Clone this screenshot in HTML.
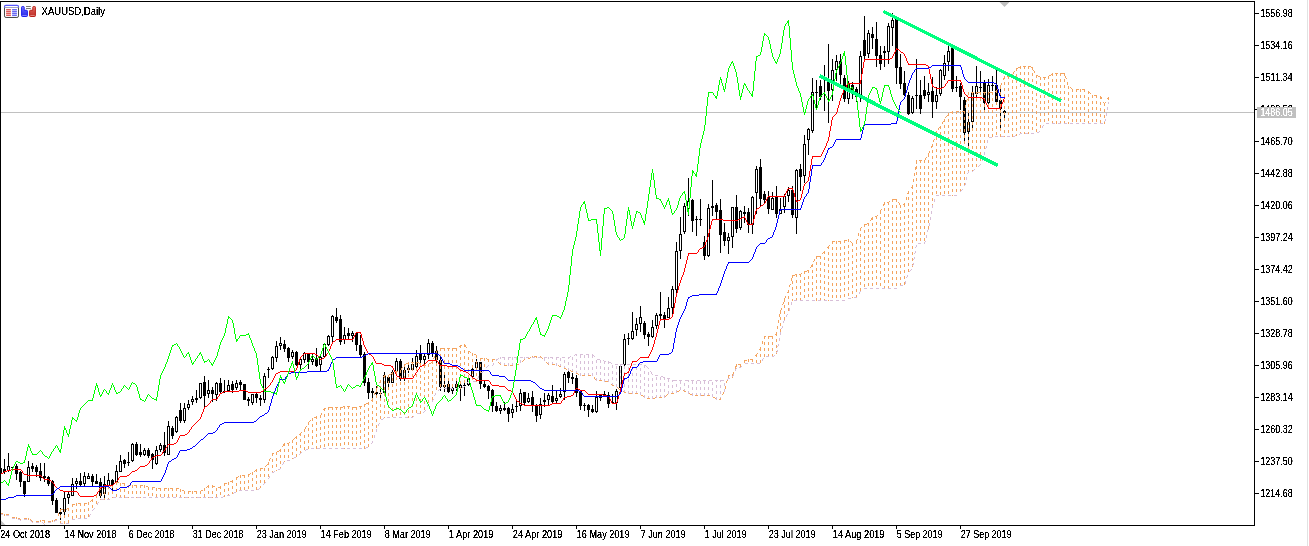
<!DOCTYPE html><html><head><meta charset="utf-8"><title>XAUUSD,Daily</title><style>html,body{margin:0;padding:0;background:#fff;overflow:hidden}body{width:1309px;height:546px;position:relative;font-family:"Liberation Sans",sans-serif}svg text{font-family:"Liberation Sans",sans-serif}</style></head><body><svg width="1309" height="546" viewBox="0 0 1309 546" shape-rendering="crispEdges" style="position:absolute;left:0;top:0">
<rect x="0" y="0" width="1309" height="546" fill="#fff"/>
<rect x="1307" y="0" width="1" height="546" fill="#e2e2e2"/>
<defs><clipPath id="cp"><rect x="1" y="2" width="1253" height="523"/></clipPath><filter id="tf" x="-2%" y="-10%" width="104%" height="120%" color-interpolation-filters="sRGB"><feComponentTransfer><feFuncA type="discrete" tableValues="0 0 0 0.5 1 1 1 1 1 1"/></feComponentTransfer></filter></defs>
<g clip-path="url(#cp)">
<rect x="0" y="112" width="1254" height="1" fill="#c0c0c0"/>
<rect x="0" y="455" width="1" height="19" fill="#000"/>
<rect x="-1" y="468" width="3" height="5" fill="#000"/>
<rect x="4" y="459" width="1" height="15" fill="#000"/>
<rect x="3" y="469" width="3" height="3" fill="#000"/>
<rect x="8" y="453" width="1" height="19" fill="#000"/>
<rect x="7" y="466" width="3" height="5" fill="#000"/>
<rect x="8" y="467" width="1" height="3" fill="#fff"/>
<rect x="12" y="467" width="1" height="1" fill="#000"/>
<rect x="11" y="467" width="3" height="1" fill="#000"/>
<rect x="16" y="464" width="1" height="16" fill="#000"/>
<rect x="15" y="466" width="3" height="8" fill="#000"/>
<rect x="20" y="471" width="1" height="16" fill="#000"/>
<rect x="19" y="472" width="3" height="10" fill="#000"/>
<rect x="24" y="481" width="1" height="16" fill="#000"/>
<rect x="23" y="481" width="3" height="13" fill="#000"/>
<rect x="28" y="461" width="1" height="21" fill="#000"/>
<rect x="27" y="467" width="3" height="15" fill="#000"/>
<rect x="28" y="468" width="1" height="13" fill="#fff"/>
<rect x="32" y="463" width="1" height="9" fill="#000"/>
<rect x="31" y="466" width="3" height="3" fill="#000"/>
<rect x="36" y="465" width="1" height="12" fill="#000"/>
<rect x="35" y="467" width="3" height="5" fill="#000"/>
<rect x="40" y="463" width="1" height="18" fill="#000"/>
<rect x="39" y="471" width="3" height="7" fill="#000"/>
<rect x="44" y="463" width="1" height="19" fill="#000"/>
<rect x="43" y="476" width="3" height="2" fill="#000"/>
<rect x="48" y="476" width="1" height="10" fill="#000"/>
<rect x="47" y="477" width="3" height="7" fill="#000"/>
<rect x="52" y="480" width="1" height="25" fill="#000"/>
<rect x="51" y="481" width="3" height="20" fill="#000"/>
<rect x="56" y="498" width="1" height="15" fill="#000"/>
<rect x="55" y="500" width="3" height="13" fill="#000"/>
<rect x="60" y="508" width="1" height="12" fill="#000"/>
<rect x="59" y="512" width="3" height="2" fill="#000"/>
<rect x="64" y="492" width="1" height="25" fill="#000"/>
<rect x="63" y="498" width="3" height="14" fill="#000"/>
<rect x="64" y="499" width="1" height="12" fill="#fff"/>
<rect x="68" y="492" width="1" height="12" fill="#000"/>
<rect x="67" y="494" width="3" height="4" fill="#000"/>
<rect x="68" y="495" width="1" height="2" fill="#fff"/>
<rect x="72" y="478" width="1" height="18" fill="#000"/>
<rect x="71" y="484" width="3" height="12" fill="#000"/>
<rect x="72" y="485" width="1" height="10" fill="#fff"/>
<rect x="76" y="478" width="1" height="11" fill="#000"/>
<rect x="75" y="481" width="3" height="3" fill="#000"/>
<rect x="76" y="482" width="1" height="1" fill="#fff"/>
<rect x="80" y="473" width="1" height="13" fill="#000"/>
<rect x="79" y="481" width="3" height="4" fill="#000"/>
<rect x="84" y="472" width="1" height="14" fill="#000"/>
<rect x="83" y="476" width="3" height="8" fill="#000"/>
<rect x="84" y="477" width="1" height="6" fill="#fff"/>
<rect x="88" y="473" width="1" height="6" fill="#000"/>
<rect x="87" y="476" width="3" height="3" fill="#000"/>
<rect x="88" y="477" width="1" height="1" fill="#fff"/>
<rect x="92" y="474" width="1" height="12" fill="#000"/>
<rect x="91" y="476" width="3" height="6" fill="#000"/>
<rect x="96" y="474" width="1" height="10" fill="#000"/>
<rect x="95" y="481" width="3" height="3" fill="#000"/>
<rect x="100" y="478" width="1" height="20" fill="#000"/>
<rect x="99" y="482" width="3" height="14" fill="#000"/>
<rect x="104" y="476" width="1" height="23" fill="#000"/>
<rect x="103" y="484" width="3" height="10" fill="#000"/>
<rect x="104" y="485" width="1" height="8" fill="#fff"/>
<rect x="108" y="473" width="1" height="13" fill="#000"/>
<rect x="107" y="480" width="3" height="6" fill="#000"/>
<rect x="108" y="481" width="1" height="4" fill="#fff"/>
<rect x="112" y="479" width="1" height="11" fill="#000"/>
<rect x="111" y="480" width="3" height="5" fill="#000"/>
<rect x="116" y="465" width="1" height="20" fill="#000"/>
<rect x="115" y="471" width="3" height="12" fill="#000"/>
<rect x="116" y="472" width="1" height="10" fill="#fff"/>
<rect x="120" y="455" width="1" height="17" fill="#000"/>
<rect x="119" y="461" width="3" height="11" fill="#000"/>
<rect x="120" y="462" width="1" height="9" fill="#fff"/>
<rect x="124" y="459" width="1" height="9" fill="#000"/>
<rect x="123" y="460" width="3" height="4" fill="#000"/>
<rect x="128" y="452" width="1" height="14" fill="#000"/>
<rect x="127" y="462" width="3" height="1" fill="#000"/>
<rect x="132" y="443" width="1" height="19" fill="#000"/>
<rect x="131" y="444" width="3" height="17" fill="#000"/>
<rect x="132" y="445" width="1" height="15" fill="#fff"/>
<rect x="136" y="442" width="1" height="14" fill="#000"/>
<rect x="135" y="444" width="3" height="11" fill="#000"/>
<rect x="140" y="444" width="1" height="13" fill="#000"/>
<rect x="139" y="452" width="3" height="3" fill="#000"/>
<rect x="144" y="448" width="1" height="8" fill="#000"/>
<rect x="143" y="450" width="3" height="5" fill="#000"/>
<rect x="144" y="451" width="1" height="3" fill="#fff"/>
<rect x="148" y="448" width="1" height="10" fill="#000"/>
<rect x="147" y="450" width="3" height="6" fill="#000"/>
<rect x="152" y="453" width="1" height="16" fill="#000"/>
<rect x="151" y="454" width="3" height="6" fill="#000"/>
<rect x="156" y="446" width="1" height="19" fill="#000"/>
<rect x="155" y="450" width="3" height="14" fill="#000"/>
<rect x="156" y="451" width="1" height="12" fill="#fff"/>
<rect x="160" y="443" width="1" height="9" fill="#000"/>
<rect x="159" y="445" width="3" height="5" fill="#000"/>
<rect x="160" y="446" width="1" height="3" fill="#fff"/>
<rect x="164" y="432" width="1" height="24" fill="#000"/>
<rect x="163" y="445" width="3" height="8" fill="#000"/>
<rect x="168" y="421" width="1" height="34" fill="#000"/>
<rect x="167" y="426" width="3" height="29" fill="#000"/>
<rect x="168" y="427" width="1" height="27" fill="#fff"/>
<rect x="172" y="426" width="1" height="13" fill="#000"/>
<rect x="171" y="428" width="3" height="8" fill="#000"/>
<rect x="176" y="416" width="1" height="17" fill="#000"/>
<rect x="175" y="417" width="3" height="15" fill="#000"/>
<rect x="176" y="418" width="1" height="13" fill="#fff"/>
<rect x="180" y="403" width="1" height="20" fill="#000"/>
<rect x="179" y="410" width="3" height="11" fill="#000"/>
<rect x="184" y="403" width="1" height="20" fill="#000"/>
<rect x="183" y="408" width="3" height="13" fill="#000"/>
<rect x="184" y="409" width="1" height="11" fill="#fff"/>
<rect x="188" y="400" width="1" height="10" fill="#000"/>
<rect x="187" y="404" width="3" height="4" fill="#000"/>
<rect x="188" y="405" width="1" height="2" fill="#fff"/>
<rect x="192" y="396" width="1" height="9" fill="#000"/>
<rect x="191" y="399" width="3" height="3" fill="#000"/>
<rect x="192" y="400" width="1" height="1" fill="#fff"/>
<rect x="196" y="390" width="1" height="13" fill="#000"/>
<rect x="195" y="398" width="3" height="2" fill="#000"/>
<rect x="200" y="383" width="1" height="16" fill="#000"/>
<rect x="199" y="383" width="3" height="15" fill="#000"/>
<rect x="200" y="384" width="1" height="13" fill="#fff"/>
<rect x="204" y="376" width="1" height="31" fill="#000"/>
<rect x="203" y="382" width="3" height="14" fill="#000"/>
<rect x="208" y="380" width="1" height="18" fill="#000"/>
<rect x="207" y="390" width="3" height="4" fill="#000"/>
<rect x="208" y="391" width="1" height="2" fill="#fff"/>
<rect x="212" y="387" width="1" height="15" fill="#000"/>
<rect x="211" y="390" width="3" height="4" fill="#000"/>
<rect x="216" y="382" width="1" height="19" fill="#000"/>
<rect x="215" y="383" width="3" height="12" fill="#000"/>
<rect x="216" y="384" width="1" height="10" fill="#fff"/>
<rect x="220" y="378" width="1" height="15" fill="#000"/>
<rect x="219" y="383" width="3" height="9" fill="#000"/>
<rect x="224" y="380" width="1" height="13" fill="#000"/>
<rect x="223" y="391" width="3" height="1" fill="#000"/>
<rect x="228" y="380" width="1" height="11" fill="#000"/>
<rect x="227" y="385" width="3" height="6" fill="#000"/>
<rect x="228" y="386" width="1" height="4" fill="#fff"/>
<rect x="232" y="381" width="1" height="12" fill="#000"/>
<rect x="231" y="384" width="3" height="6" fill="#000"/>
<rect x="236" y="380" width="1" height="10" fill="#000"/>
<rect x="235" y="383" width="3" height="5" fill="#000"/>
<rect x="236" y="384" width="1" height="3" fill="#fff"/>
<rect x="240" y="380" width="1" height="10" fill="#000"/>
<rect x="239" y="382" width="3" height="3" fill="#000"/>
<rect x="244" y="384" width="1" height="16" fill="#000"/>
<rect x="243" y="384" width="3" height="16" fill="#000"/>
<rect x="248" y="397" width="1" height="9" fill="#000"/>
<rect x="247" y="399" width="3" height="2" fill="#000"/>
<rect x="252" y="394" width="1" height="11" fill="#000"/>
<rect x="251" y="394" width="3" height="9" fill="#000"/>
<rect x="252" y="395" width="1" height="7" fill="#fff"/>
<rect x="256" y="392" width="1" height="11" fill="#000"/>
<rect x="255" y="394" width="3" height="4" fill="#000"/>
<rect x="260" y="395" width="1" height="11" fill="#000"/>
<rect x="259" y="398" width="3" height="2" fill="#000"/>
<rect x="264" y="373" width="1" height="30" fill="#000"/>
<rect x="263" y="376" width="3" height="24" fill="#000"/>
<rect x="264" y="377" width="1" height="22" fill="#fff"/>
<rect x="268" y="367" width="1" height="11" fill="#000"/>
<rect x="267" y="369" width="3" height="1" fill="#000"/>
<rect x="272" y="356" width="1" height="14" fill="#000"/>
<rect x="271" y="357" width="3" height="12" fill="#000"/>
<rect x="272" y="358" width="1" height="10" fill="#fff"/>
<rect x="276" y="341" width="1" height="21" fill="#000"/>
<rect x="275" y="346" width="3" height="12" fill="#000"/>
<rect x="276" y="347" width="1" height="10" fill="#fff"/>
<rect x="280" y="337" width="1" height="13" fill="#000"/>
<rect x="279" y="343" width="3" height="3" fill="#000"/>
<rect x="280" y="344" width="1" height="1" fill="#fff"/>
<rect x="284" y="340" width="1" height="12" fill="#000"/>
<rect x="283" y="344" width="3" height="5" fill="#000"/>
<rect x="288" y="347" width="1" height="15" fill="#000"/>
<rect x="287" y="348" width="3" height="10" fill="#000"/>
<rect x="292" y="350" width="1" height="9" fill="#000"/>
<rect x="291" y="352" width="3" height="5" fill="#000"/>
<rect x="292" y="353" width="1" height="3" fill="#fff"/>
<rect x="296" y="351" width="1" height="15" fill="#000"/>
<rect x="295" y="352" width="3" height="13" fill="#000"/>
<rect x="300" y="359" width="1" height="11" fill="#000"/>
<rect x="299" y="359" width="3" height="6" fill="#000"/>
<rect x="300" y="360" width="1" height="4" fill="#fff"/>
<rect x="304" y="352" width="1" height="11" fill="#000"/>
<rect x="303" y="353" width="3" height="7" fill="#000"/>
<rect x="304" y="354" width="1" height="5" fill="#fff"/>
<rect x="308" y="354" width="1" height="15" fill="#000"/>
<rect x="307" y="354" width="3" height="8" fill="#000"/>
<rect x="312" y="354" width="1" height="11" fill="#000"/>
<rect x="311" y="359" width="3" height="3" fill="#000"/>
<rect x="312" y="360" width="1" height="1" fill="#fff"/>
<rect x="316" y="348" width="1" height="19" fill="#000"/>
<rect x="315" y="359" width="3" height="7" fill="#000"/>
<rect x="320" y="354" width="1" height="17" fill="#000"/>
<rect x="319" y="357" width="3" height="8" fill="#000"/>
<rect x="320" y="358" width="1" height="6" fill="#fff"/>
<rect x="324" y="343" width="1" height="15" fill="#000"/>
<rect x="323" y="344" width="3" height="13" fill="#000"/>
<rect x="324" y="345" width="1" height="11" fill="#fff"/>
<rect x="328" y="335" width="1" height="11" fill="#000"/>
<rect x="327" y="336" width="3" height="9" fill="#000"/>
<rect x="328" y="337" width="1" height="7" fill="#fff"/>
<rect x="332" y="315" width="1" height="27" fill="#000"/>
<rect x="331" y="316" width="3" height="21" fill="#000"/>
<rect x="332" y="317" width="1" height="19" fill="#fff"/>
<rect x="336" y="308" width="1" height="15" fill="#000"/>
<rect x="335" y="317" width="3" height="4" fill="#000"/>
<rect x="340" y="315" width="1" height="30" fill="#000"/>
<rect x="339" y="319" width="3" height="23" fill="#000"/>
<rect x="344" y="327" width="1" height="17" fill="#000"/>
<rect x="343" y="335" width="3" height="5" fill="#000"/>
<rect x="344" y="336" width="1" height="3" fill="#fff"/>
<rect x="348" y="328" width="1" height="11" fill="#000"/>
<rect x="347" y="333" width="3" height="3" fill="#000"/>
<rect x="352" y="331" width="1" height="11" fill="#000"/>
<rect x="351" y="333" width="3" height="3" fill="#000"/>
<rect x="352" y="334" width="1" height="1" fill="#fff"/>
<rect x="356" y="332" width="1" height="19" fill="#000"/>
<rect x="355" y="333" width="3" height="12" fill="#000"/>
<rect x="360" y="335" width="1" height="22" fill="#000"/>
<rect x="359" y="345" width="3" height="10" fill="#000"/>
<rect x="364" y="352" width="1" height="34" fill="#000"/>
<rect x="363" y="354" width="3" height="29" fill="#000"/>
<rect x="368" y="378" width="1" height="21" fill="#000"/>
<rect x="367" y="382" width="3" height="11" fill="#000"/>
<rect x="372" y="388" width="1" height="10" fill="#000"/>
<rect x="371" y="391" width="3" height="2" fill="#000"/>
<rect x="376" y="386" width="1" height="11" fill="#000"/>
<rect x="375" y="392" width="3" height="2" fill="#000"/>
<rect x="380" y="389" width="1" height="9" fill="#000"/>
<rect x="379" y="393" width="3" height="1" fill="#000"/>
<rect x="384" y="372" width="1" height="22" fill="#000"/>
<rect x="383" y="375" width="3" height="18" fill="#000"/>
<rect x="384" y="376" width="1" height="16" fill="#fff"/>
<rect x="388" y="376" width="1" height="11" fill="#000"/>
<rect x="387" y="377" width="3" height="6" fill="#000"/>
<rect x="392" y="370" width="1" height="13" fill="#000"/>
<rect x="391" y="372" width="3" height="11" fill="#000"/>
<rect x="392" y="373" width="1" height="9" fill="#fff"/>
<rect x="396" y="358" width="1" height="14" fill="#000"/>
<rect x="395" y="361" width="3" height="11" fill="#000"/>
<rect x="396" y="362" width="1" height="9" fill="#fff"/>
<rect x="400" y="359" width="1" height="22" fill="#000"/>
<rect x="399" y="361" width="3" height="18" fill="#000"/>
<rect x="404" y="367" width="1" height="14" fill="#000"/>
<rect x="403" y="370" width="3" height="9" fill="#000"/>
<rect x="404" y="371" width="1" height="7" fill="#fff"/>
<rect x="408" y="365" width="1" height="8" fill="#000"/>
<rect x="407" y="368" width="3" height="2" fill="#000"/>
<rect x="412" y="358" width="1" height="12" fill="#000"/>
<rect x="411" y="364" width="3" height="6" fill="#000"/>
<rect x="412" y="365" width="1" height="4" fill="#fff"/>
<rect x="416" y="350" width="1" height="18" fill="#000"/>
<rect x="415" y="356" width="3" height="11" fill="#000"/>
<rect x="416" y="357" width="1" height="9" fill="#fff"/>
<rect x="420" y="345" width="1" height="18" fill="#000"/>
<rect x="419" y="354" width="3" height="6" fill="#000"/>
<rect x="424" y="353" width="1" height="12" fill="#000"/>
<rect x="423" y="356" width="3" height="4" fill="#000"/>
<rect x="424" y="357" width="1" height="2" fill="#fff"/>
<rect x="428" y="339" width="1" height="20" fill="#000"/>
<rect x="427" y="343" width="3" height="12" fill="#000"/>
<rect x="428" y="344" width="1" height="10" fill="#fff"/>
<rect x="432" y="341" width="1" height="16" fill="#000"/>
<rect x="431" y="343" width="3" height="10" fill="#000"/>
<rect x="436" y="346" width="1" height="17" fill="#000"/>
<rect x="435" y="351" width="3" height="9" fill="#000"/>
<rect x="440" y="355" width="1" height="36" fill="#000"/>
<rect x="439" y="360" width="3" height="27" fill="#000"/>
<rect x="444" y="375" width="1" height="17" fill="#000"/>
<rect x="443" y="385" width="3" height="2" fill="#000"/>
<rect x="448" y="381" width="1" height="12" fill="#000"/>
<rect x="447" y="384" width="3" height="8" fill="#000"/>
<rect x="452" y="384" width="1" height="10" fill="#000"/>
<rect x="451" y="388" width="3" height="3" fill="#000"/>
<rect x="452" y="389" width="1" height="1" fill="#fff"/>
<rect x="456" y="381" width="1" height="10" fill="#000"/>
<rect x="455" y="384" width="3" height="4" fill="#000"/>
<rect x="460" y="384" width="1" height="17" fill="#000"/>
<rect x="459" y="385" width="3" height="3" fill="#000"/>
<rect x="460" y="386" width="1" height="1" fill="#fff"/>
<rect x="464" y="383" width="1" height="13" fill="#000"/>
<rect x="463" y="385" width="3" height="1" fill="#000"/>
<rect x="468" y="377" width="1" height="9" fill="#000"/>
<rect x="467" y="378" width="3" height="7" fill="#000"/>
<rect x="468" y="379" width="1" height="5" fill="#fff"/>
<rect x="472" y="368" width="1" height="10" fill="#000"/>
<rect x="471" y="369" width="3" height="8" fill="#000"/>
<rect x="472" y="370" width="1" height="6" fill="#fff"/>
<rect x="476" y="359" width="1" height="10" fill="#000"/>
<rect x="475" y="362" width="3" height="6" fill="#000"/>
<rect x="476" y="363" width="1" height="4" fill="#fff"/>
<rect x="480" y="362" width="1" height="27" fill="#000"/>
<rect x="479" y="362" width="3" height="22" fill="#000"/>
<rect x="484" y="380" width="1" height="8" fill="#000"/>
<rect x="483" y="384" width="3" height="3" fill="#000"/>
<rect x="488" y="385" width="1" height="14" fill="#000"/>
<rect x="487" y="386" width="3" height="5" fill="#000"/>
<rect x="492" y="389" width="1" height="23" fill="#000"/>
<rect x="491" y="390" width="3" height="16" fill="#000"/>
<rect x="496" y="402" width="1" height="10" fill="#000"/>
<rect x="495" y="406" width="3" height="5" fill="#000"/>
<rect x="500" y="405" width="1" height="9" fill="#000"/>
<rect x="499" y="408" width="3" height="3" fill="#000"/>
<rect x="500" y="409" width="1" height="1" fill="#fff"/>
<rect x="504" y="402" width="1" height="9" fill="#000"/>
<rect x="503" y="408" width="3" height="2" fill="#000"/>
<rect x="508" y="407" width="1" height="15" fill="#000"/>
<rect x="507" y="408" width="3" height="6" fill="#000"/>
<rect x="512" y="404" width="1" height="14" fill="#000"/>
<rect x="511" y="409" width="3" height="4" fill="#000"/>
<rect x="512" y="410" width="1" height="2" fill="#fff"/>
<rect x="516" y="399" width="1" height="13" fill="#000"/>
<rect x="515" y="406" width="3" height="1" fill="#000"/>
<rect x="520" y="389" width="1" height="22" fill="#000"/>
<rect x="519" y="393" width="3" height="13" fill="#000"/>
<rect x="520" y="394" width="1" height="11" fill="#fff"/>
<rect x="524" y="392" width="1" height="13" fill="#000"/>
<rect x="523" y="392" width="3" height="11" fill="#000"/>
<rect x="528" y="393" width="1" height="10" fill="#000"/>
<rect x="527" y="398" width="3" height="4" fill="#000"/>
<rect x="528" y="399" width="1" height="2" fill="#fff"/>
<rect x="532" y="391" width="1" height="21" fill="#000"/>
<rect x="531" y="397" width="3" height="9" fill="#000"/>
<rect x="536" y="404" width="1" height="18" fill="#000"/>
<rect x="535" y="406" width="3" height="10" fill="#000"/>
<rect x="540" y="398" width="1" height="21" fill="#000"/>
<rect x="539" y="404" width="3" height="11" fill="#000"/>
<rect x="540" y="405" width="1" height="9" fill="#fff"/>
<rect x="544" y="393" width="1" height="14" fill="#000"/>
<rect x="543" y="400" width="3" height="2" fill="#000"/>
<rect x="548" y="393" width="1" height="12" fill="#000"/>
<rect x="547" y="395" width="3" height="5" fill="#000"/>
<rect x="548" y="396" width="1" height="3" fill="#fff"/>
<rect x="552" y="385" width="1" height="18" fill="#000"/>
<rect x="551" y="396" width="3" height="6" fill="#000"/>
<rect x="556" y="391" width="1" height="12" fill="#000"/>
<rect x="555" y="398" width="3" height="3" fill="#000"/>
<rect x="556" y="399" width="1" height="1" fill="#fff"/>
<rect x="560" y="388" width="1" height="10" fill="#000"/>
<rect x="559" y="394" width="3" height="3" fill="#000"/>
<rect x="560" y="395" width="1" height="1" fill="#fff"/>
<rect x="564" y="372" width="1" height="28" fill="#000"/>
<rect x="563" y="374" width="3" height="18" fill="#000"/>
<rect x="564" y="375" width="1" height="16" fill="#fff"/>
<rect x="568" y="371" width="1" height="12" fill="#000"/>
<rect x="567" y="372" width="3" height="6" fill="#000"/>
<rect x="572" y="373" width="1" height="11" fill="#000"/>
<rect x="571" y="377" width="3" height="2" fill="#000"/>
<rect x="576" y="375" width="1" height="22" fill="#000"/>
<rect x="575" y="378" width="3" height="15" fill="#000"/>
<rect x="580" y="390" width="1" height="20" fill="#000"/>
<rect x="579" y="391" width="3" height="15" fill="#000"/>
<rect x="584" y="403" width="1" height="8" fill="#000"/>
<rect x="583" y="405" width="3" height="1" fill="#000"/>
<rect x="588" y="404" width="1" height="13" fill="#000"/>
<rect x="587" y="405" width="3" height="5" fill="#000"/>
<rect x="592" y="405" width="1" height="8" fill="#000"/>
<rect x="591" y="409" width="3" height="3" fill="#000"/>
<rect x="596" y="391" width="1" height="22" fill="#000"/>
<rect x="595" y="397" width="3" height="15" fill="#000"/>
<rect x="596" y="398" width="1" height="13" fill="#fff"/>
<rect x="600" y="394" width="1" height="7" fill="#000"/>
<rect x="599" y="395" width="3" height="3" fill="#000"/>
<rect x="600" y="396" width="1" height="1" fill="#fff"/>
<rect x="604" y="391" width="1" height="6" fill="#000"/>
<rect x="603" y="394" width="3" height="1" fill="#000"/>
<rect x="608" y="392" width="1" height="16" fill="#000"/>
<rect x="607" y="395" width="3" height="9" fill="#000"/>
<rect x="612" y="394" width="1" height="10" fill="#000"/>
<rect x="611" y="402" width="3" height="1" fill="#000"/>
<rect x="616" y="389" width="1" height="21" fill="#000"/>
<rect x="615" y="391" width="3" height="12" fill="#000"/>
<rect x="616" y="392" width="1" height="10" fill="#fff"/>
<rect x="620" y="364" width="1" height="27" fill="#000"/>
<rect x="619" y="366" width="3" height="22" fill="#000"/>
<rect x="620" y="367" width="1" height="20" fill="#fff"/>
<rect x="624" y="334" width="1" height="32" fill="#000"/>
<rect x="623" y="339" width="3" height="26" fill="#000"/>
<rect x="624" y="340" width="1" height="24" fill="#fff"/>
<rect x="628" y="333" width="1" height="12" fill="#000"/>
<rect x="627" y="338" width="3" height="1" fill="#000"/>
<rect x="632" y="312" width="1" height="28" fill="#000"/>
<rect x="631" y="331" width="3" height="8" fill="#000"/>
<rect x="632" y="332" width="1" height="6" fill="#fff"/>
<rect x="636" y="318" width="1" height="18" fill="#000"/>
<rect x="635" y="324" width="3" height="6" fill="#000"/>
<rect x="636" y="325" width="1" height="4" fill="#fff"/>
<rect x="640" y="306" width="1" height="26" fill="#000"/>
<rect x="639" y="317" width="3" height="7" fill="#000"/>
<rect x="640" y="318" width="1" height="5" fill="#fff"/>
<rect x="644" y="321" width="1" height="18" fill="#000"/>
<rect x="643" y="323" width="3" height="12" fill="#000"/>
<rect x="648" y="332" width="1" height="14" fill="#000"/>
<rect x="647" y="334" width="3" height="3" fill="#000"/>
<rect x="652" y="320" width="1" height="18" fill="#000"/>
<rect x="651" y="327" width="3" height="10" fill="#000"/>
<rect x="652" y="328" width="1" height="8" fill="#fff"/>
<rect x="656" y="313" width="1" height="16" fill="#000"/>
<rect x="655" y="315" width="3" height="11" fill="#000"/>
<rect x="656" y="316" width="1" height="9" fill="#fff"/>
<rect x="660" y="292" width="1" height="27" fill="#000"/>
<rect x="659" y="314" width="3" height="2" fill="#000"/>
<rect x="664" y="312" width="1" height="16" fill="#000"/>
<rect x="663" y="315" width="3" height="4" fill="#000"/>
<rect x="668" y="297" width="1" height="21" fill="#000"/>
<rect x="667" y="308" width="3" height="10" fill="#000"/>
<rect x="668" y="309" width="1" height="8" fill="#fff"/>
<rect x="672" y="286" width="1" height="28" fill="#000"/>
<rect x="671" y="289" width="3" height="19" fill="#000"/>
<rect x="672" y="290" width="1" height="17" fill="#fff"/>
<rect x="676" y="242" width="1" height="51" fill="#000"/>
<rect x="675" y="251" width="3" height="39" fill="#000"/>
<rect x="676" y="252" width="1" height="37" fill="#fff"/>
<rect x="680" y="217" width="1" height="42" fill="#000"/>
<rect x="679" y="234" width="3" height="17" fill="#000"/>
<rect x="680" y="235" width="1" height="15" fill="#fff"/>
<rect x="684" y="203" width="1" height="31" fill="#000"/>
<rect x="683" y="206" width="3" height="26" fill="#000"/>
<rect x="684" y="207" width="1" height="24" fill="#fff"/>
<rect x="688" y="178" width="1" height="38" fill="#000"/>
<rect x="687" y="201" width="3" height="8" fill="#000"/>
<rect x="688" y="202" width="1" height="6" fill="#fff"/>
<rect x="692" y="199" width="1" height="33" fill="#000"/>
<rect x="691" y="200" width="3" height="21" fill="#000"/>
<rect x="696" y="216" width="1" height="20" fill="#000"/>
<rect x="695" y="219" width="3" height="1" fill="#000"/>
<rect x="700" y="199" width="1" height="27" fill="#000"/>
<rect x="699" y="219" width="3" height="1" fill="#000"/>
<rect x="704" y="236" width="1" height="24" fill="#000"/>
<rect x="703" y="242" width="3" height="14" fill="#000"/>
<rect x="708" y="204" width="1" height="53" fill="#000"/>
<rect x="707" y="208" width="3" height="48" fill="#000"/>
<rect x="708" y="209" width="1" height="46" fill="#fff"/>
<rect x="712" y="180" width="1" height="36" fill="#000"/>
<rect x="711" y="206" width="3" height="2" fill="#000"/>
<rect x="716" y="203" width="1" height="16" fill="#000"/>
<rect x="715" y="205" width="3" height="7" fill="#000"/>
<rect x="720" y="199" width="1" height="54" fill="#000"/>
<rect x="719" y="210" width="3" height="25" fill="#000"/>
<rect x="724" y="223" width="1" height="23" fill="#000"/>
<rect x="723" y="232" width="3" height="9" fill="#000"/>
<rect x="728" y="233" width="1" height="21" fill="#000"/>
<rect x="727" y="237" width="3" height="4" fill="#000"/>
<rect x="728" y="238" width="1" height="2" fill="#fff"/>
<rect x="732" y="207" width="1" height="41" fill="#000"/>
<rect x="731" y="207" width="3" height="30" fill="#000"/>
<rect x="732" y="208" width="1" height="28" fill="#fff"/>
<rect x="736" y="195" width="1" height="38" fill="#000"/>
<rect x="735" y="207" width="3" height="22" fill="#000"/>
<rect x="740" y="210" width="1" height="20" fill="#000"/>
<rect x="739" y="211" width="3" height="17" fill="#000"/>
<rect x="740" y="212" width="1" height="15" fill="#fff"/>
<rect x="744" y="206" width="1" height="17" fill="#000"/>
<rect x="743" y="212" width="3" height="2" fill="#000"/>
<rect x="748" y="208" width="1" height="25" fill="#000"/>
<rect x="747" y="212" width="3" height="13" fill="#000"/>
<rect x="752" y="196" width="1" height="38" fill="#000"/>
<rect x="751" y="197" width="3" height="28" fill="#000"/>
<rect x="752" y="198" width="1" height="26" fill="#fff"/>
<rect x="756" y="166" width="1" height="48" fill="#000"/>
<rect x="755" y="169" width="3" height="24" fill="#000"/>
<rect x="756" y="170" width="1" height="22" fill="#fff"/>
<rect x="760" y="159" width="1" height="47" fill="#000"/>
<rect x="759" y="167" width="3" height="32" fill="#000"/>
<rect x="764" y="191" width="1" height="12" fill="#000"/>
<rect x="763" y="194" width="3" height="6" fill="#000"/>
<rect x="768" y="191" width="1" height="23" fill="#000"/>
<rect x="767" y="197" width="3" height="12" fill="#000"/>
<rect x="772" y="192" width="1" height="18" fill="#000"/>
<rect x="771" y="198" width="3" height="12" fill="#000"/>
<rect x="772" y="199" width="1" height="10" fill="#fff"/>
<rect x="776" y="186" width="1" height="32" fill="#000"/>
<rect x="775" y="197" width="3" height="17" fill="#000"/>
<rect x="780" y="198" width="1" height="16" fill="#000"/>
<rect x="779" y="209" width="3" height="5" fill="#000"/>
<rect x="780" y="210" width="1" height="3" fill="#fff"/>
<rect x="784" y="194" width="1" height="19" fill="#000"/>
<rect x="783" y="196" width="3" height="11" fill="#000"/>
<rect x="784" y="197" width="1" height="9" fill="#fff"/>
<rect x="788" y="187" width="1" height="15" fill="#000"/>
<rect x="787" y="190" width="3" height="6" fill="#000"/>
<rect x="788" y="191" width="1" height="4" fill="#fff"/>
<rect x="792" y="186" width="1" height="32" fill="#000"/>
<rect x="791" y="190" width="3" height="25" fill="#000"/>
<rect x="796" y="169" width="1" height="65" fill="#000"/>
<rect x="795" y="170" width="3" height="48" fill="#000"/>
<rect x="796" y="171" width="1" height="46" fill="#fff"/>
<rect x="800" y="164" width="1" height="27" fill="#000"/>
<rect x="799" y="169" width="3" height="8" fill="#000"/>
<rect x="804" y="135" width="1" height="48" fill="#000"/>
<rect x="803" y="144" width="3" height="32" fill="#000"/>
<rect x="804" y="145" width="1" height="30" fill="#fff"/>
<rect x="808" y="128" width="1" height="27" fill="#000"/>
<rect x="807" y="129" width="3" height="11" fill="#000"/>
<rect x="808" y="130" width="1" height="9" fill="#fff"/>
<rect x="812" y="78" width="1" height="55" fill="#000"/>
<rect x="811" y="92" width="3" height="39" fill="#000"/>
<rect x="812" y="93" width="1" height="37" fill="#fff"/>
<rect x="816" y="80" width="1" height="28" fill="#000"/>
<rect x="815" y="92" width="3" height="1" fill="#000"/>
<rect x="820" y="80" width="1" height="20" fill="#000"/>
<rect x="819" y="86" width="3" height="11" fill="#000"/>
<rect x="824" y="65" width="1" height="46" fill="#000"/>
<rect x="823" y="77" width="3" height="1" fill="#000"/>
<rect x="828" y="44" width="1" height="79" fill="#000"/>
<rect x="827" y="80" width="3" height="11" fill="#000"/>
<rect x="832" y="59" width="1" height="42" fill="#000"/>
<rect x="831" y="70" width="3" height="20" fill="#000"/>
<rect x="832" y="71" width="1" height="18" fill="#fff"/>
<rect x="836" y="55" width="1" height="26" fill="#000"/>
<rect x="835" y="61" width="3" height="9" fill="#000"/>
<rect x="836" y="62" width="1" height="7" fill="#fff"/>
<rect x="840" y="54" width="1" height="34" fill="#000"/>
<rect x="839" y="61" width="3" height="14" fill="#000"/>
<rect x="844" y="75" width="1" height="27" fill="#000"/>
<rect x="843" y="78" width="3" height="21" fill="#000"/>
<rect x="848" y="81" width="1" height="23" fill="#000"/>
<rect x="847" y="84" width="3" height="15" fill="#000"/>
<rect x="848" y="85" width="1" height="13" fill="#fff"/>
<rect x="852" y="82" width="1" height="17" fill="#000"/>
<rect x="851" y="85" width="3" height="6" fill="#000"/>
<rect x="856" y="87" width="1" height="15" fill="#000"/>
<rect x="855" y="89" width="3" height="8" fill="#000"/>
<rect x="860" y="51" width="1" height="51" fill="#000"/>
<rect x="859" y="56" width="3" height="40" fill="#000"/>
<rect x="860" y="57" width="1" height="38" fill="#fff"/>
<rect x="864" y="16" width="1" height="43" fill="#000"/>
<rect x="863" y="40" width="3" height="16" fill="#000"/>
<rect x="868" y="30" width="1" height="28" fill="#000"/>
<rect x="867" y="33" width="3" height="21" fill="#000"/>
<rect x="868" y="34" width="1" height="19" fill="#fff"/>
<rect x="872" y="27" width="1" height="22" fill="#000"/>
<rect x="871" y="34" width="3" height="4" fill="#000"/>
<rect x="876" y="22" width="1" height="45" fill="#000"/>
<rect x="875" y="39" width="3" height="17" fill="#000"/>
<rect x="880" y="46" width="1" height="24" fill="#000"/>
<rect x="879" y="55" width="3" height="9" fill="#000"/>
<rect x="884" y="46" width="1" height="21" fill="#000"/>
<rect x="883" y="51" width="3" height="2" fill="#000"/>
<rect x="888" y="23" width="1" height="41" fill="#000"/>
<rect x="887" y="26" width="3" height="26" fill="#000"/>
<rect x="888" y="27" width="1" height="24" fill="#fff"/>
<rect x="892" y="13" width="1" height="33" fill="#000"/>
<rect x="891" y="20" width="3" height="8" fill="#000"/>
<rect x="892" y="21" width="1" height="6" fill="#fff"/>
<rect x="896" y="18" width="1" height="66" fill="#000"/>
<rect x="895" y="19" width="3" height="49" fill="#000"/>
<rect x="900" y="54" width="1" height="35" fill="#000"/>
<rect x="899" y="67" width="3" height="17" fill="#000"/>
<rect x="904" y="71" width="1" height="25" fill="#000"/>
<rect x="903" y="83" width="3" height="12" fill="#000"/>
<rect x="908" y="92" width="1" height="23" fill="#000"/>
<rect x="907" y="95" width="3" height="19" fill="#000"/>
<rect x="912" y="96" width="1" height="18" fill="#000"/>
<rect x="911" y="98" width="3" height="15" fill="#000"/>
<rect x="912" y="99" width="1" height="13" fill="#fff"/>
<rect x="916" y="59" width="1" height="50" fill="#000"/>
<rect x="915" y="95" width="3" height="1" fill="#000"/>
<rect x="920" y="80" width="1" height="34" fill="#000"/>
<rect x="919" y="95" width="3" height="14" fill="#000"/>
<rect x="924" y="76" width="1" height="23" fill="#000"/>
<rect x="923" y="90" width="3" height="6" fill="#000"/>
<rect x="928" y="83" width="1" height="19" fill="#000"/>
<rect x="927" y="92" width="3" height="3" fill="#000"/>
<rect x="928" y="93" width="1" height="1" fill="#fff"/>
<rect x="932" y="77" width="1" height="41" fill="#000"/>
<rect x="931" y="91" width="3" height="11" fill="#000"/>
<rect x="936" y="87" width="1" height="22" fill="#000"/>
<rect x="935" y="95" width="3" height="7" fill="#000"/>
<rect x="936" y="96" width="1" height="5" fill="#fff"/>
<rect x="940" y="69" width="1" height="27" fill="#000"/>
<rect x="939" y="70" width="3" height="24" fill="#000"/>
<rect x="940" y="71" width="1" height="22" fill="#fff"/>
<rect x="944" y="55" width="1" height="25" fill="#000"/>
<rect x="943" y="63" width="3" height="13" fill="#000"/>
<rect x="944" y="64" width="1" height="11" fill="#fff"/>
<rect x="948" y="44" width="1" height="27" fill="#000"/>
<rect x="947" y="51" width="3" height="11" fill="#000"/>
<rect x="948" y="52" width="1" height="9" fill="#fff"/>
<rect x="952" y="48" width="1" height="44" fill="#000"/>
<rect x="951" y="48" width="3" height="41" fill="#000"/>
<rect x="956" y="76" width="1" height="16" fill="#000"/>
<rect x="955" y="87" width="3" height="1" fill="#000"/>
<rect x="960" y="83" width="1" height="27" fill="#000"/>
<rect x="959" y="86" width="3" height="11" fill="#000"/>
<rect x="964" y="97" width="1" height="47" fill="#000"/>
<rect x="963" y="100" width="3" height="33" fill="#000"/>
<rect x="968" y="113" width="1" height="39" fill="#000"/>
<rect x="967" y="122" width="3" height="10" fill="#000"/>
<rect x="968" y="123" width="1" height="8" fill="#fff"/>
<rect x="972" y="86" width="1" height="42" fill="#000"/>
<rect x="971" y="93" width="3" height="29" fill="#000"/>
<rect x="972" y="94" width="1" height="27" fill="#fff"/>
<rect x="976" y="66" width="1" height="31" fill="#000"/>
<rect x="975" y="86" width="3" height="8" fill="#000"/>
<rect x="976" y="87" width="1" height="6" fill="#fff"/>
<rect x="980" y="71" width="1" height="23" fill="#000"/>
<rect x="979" y="87" width="3" height="1" fill="#000"/>
<rect x="984" y="80" width="1" height="30" fill="#000"/>
<rect x="983" y="82" width="3" height="21" fill="#000"/>
<rect x="988" y="79" width="1" height="30" fill="#000"/>
<rect x="987" y="85" width="3" height="18" fill="#000"/>
<rect x="988" y="86" width="1" height="16" fill="#fff"/>
<rect x="992" y="76" width="1" height="15" fill="#000"/>
<rect x="991" y="85" width="3" height="1" fill="#000"/>
<rect x="996" y="70" width="1" height="35" fill="#000"/>
<rect x="995" y="85" width="3" height="17" fill="#000"/>
<rect x="1000" y="88" width="1" height="40" fill="#000"/>
<rect x="999" y="100" width="3" height="9" fill="#000"/>
<rect x="1004" y="110" width="1" height="8" fill="#000"/>
<rect x="1003" y="111" width="3" height="2" fill="#000"/>
<line x1="0.5" y1="513" x2="0.5" y2="515" stroke="#F4A460" stroke-width="1" stroke-dasharray="3,3"/>
<line x1="4.5" y1="514" x2="4.5" y2="516" stroke="#F4A460" stroke-width="1" stroke-dasharray="3,3"/>
<line x1="8.5" y1="514" x2="8.5" y2="516" stroke="#F4A460" stroke-width="1" stroke-dasharray="3,3"/>
<line x1="12.5" y1="517" x2="12.5" y2="519" stroke="#F4A460" stroke-width="1" stroke-dasharray="3,3"/>
<line x1="16.5" y1="517" x2="16.5" y2="519" stroke="#F4A460" stroke-width="1" stroke-dasharray="3,3"/>
<line x1="20.5" y1="519" x2="20.5" y2="521" stroke="#F4A460" stroke-width="1" stroke-dasharray="3,3"/>
<line x1="24.5" y1="518" x2="24.5" y2="520" stroke="#F4A460" stroke-width="1" stroke-dasharray="3,3"/>
<line x1="28.5" y1="518" x2="28.5" y2="520" stroke="#F4A460" stroke-width="1" stroke-dasharray="3,3"/>
<line x1="32.5" y1="521" x2="32.5" y2="523" stroke="#F4A460" stroke-width="1" stroke-dasharray="3,3"/>
<line x1="36.5" y1="521" x2="36.5" y2="523" stroke="#F4A460" stroke-width="1" stroke-dasharray="3,3"/>
<line x1="40.5" y1="520" x2="40.5" y2="522" stroke="#F4A460" stroke-width="1" stroke-dasharray="3,3"/>
<line x1="44.5" y1="520" x2="44.5" y2="525" stroke="#F4A460" stroke-width="1" stroke-dasharray="3,3"/>
<line x1="48.5" y1="521" x2="48.5" y2="523" stroke="#F4A460" stroke-width="1" stroke-dasharray="3,3"/>
<line x1="52.5" y1="520" x2="52.5" y2="522" stroke="#F4A460" stroke-width="1" stroke-dasharray="3,3"/>
<line x1="56.5" y1="519" x2="56.5" y2="521" stroke="#F4A460" stroke-width="1" stroke-dasharray="3,3"/>
<line x1="60.5" y1="509" x2="60.5" y2="524" stroke="#F4A460" stroke-width="1" stroke-dasharray="3,3"/>
<line x1="64.5" y1="509" x2="64.5" y2="524" stroke="#F4A460" stroke-width="1" stroke-dasharray="3,3"/>
<line x1="68.5" y1="508" x2="68.5" y2="524" stroke="#F4A460" stroke-width="1" stroke-dasharray="3,3"/>
<line x1="72.5" y1="504" x2="72.5" y2="520" stroke="#F4A460" stroke-width="1" stroke-dasharray="3,3"/>
<line x1="76.5" y1="503" x2="76.5" y2="519" stroke="#F4A460" stroke-width="1" stroke-dasharray="3,3"/>
<line x1="80.5" y1="503" x2="80.5" y2="519" stroke="#F4A460" stroke-width="1" stroke-dasharray="3,3"/>
<line x1="84.5" y1="503" x2="84.5" y2="519" stroke="#F4A460" stroke-width="1" stroke-dasharray="3,3"/>
<line x1="88.5" y1="502" x2="88.5" y2="519" stroke="#F4A460" stroke-width="1" stroke-dasharray="3,3"/>
<line x1="92.5" y1="499" x2="92.5" y2="511" stroke="#F4A460" stroke-width="1" stroke-dasharray="3,3"/>
<line x1="96.5" y1="495" x2="96.5" y2="506" stroke="#F4A460" stroke-width="1" stroke-dasharray="3,3"/>
<line x1="100.5" y1="487" x2="100.5" y2="500" stroke="#F4A460" stroke-width="1" stroke-dasharray="3,3"/>
<line x1="104.5" y1="486" x2="104.5" y2="500" stroke="#F4A460" stroke-width="1" stroke-dasharray="3,3"/>
<line x1="108.5" y1="486" x2="108.5" y2="500" stroke="#F4A460" stroke-width="1" stroke-dasharray="3,3"/>
<line x1="112.5" y1="485" x2="112.5" y2="498" stroke="#F4A460" stroke-width="1" stroke-dasharray="3,3"/>
<line x1="116.5" y1="482" x2="116.5" y2="498" stroke="#F4A460" stroke-width="1" stroke-dasharray="3,3"/>
<line x1="120.5" y1="483" x2="120.5" y2="498" stroke="#F4A460" stroke-width="1" stroke-dasharray="3,3"/>
<line x1="124.5" y1="483" x2="124.5" y2="498" stroke="#F4A460" stroke-width="1" stroke-dasharray="3,3"/>
<line x1="128.5" y1="485" x2="128.5" y2="498" stroke="#F4A460" stroke-width="1" stroke-dasharray="3,3"/>
<line x1="132.5" y1="485" x2="132.5" y2="498" stroke="#F4A460" stroke-width="1" stroke-dasharray="3,3"/>
<line x1="136.5" y1="485" x2="136.5" y2="498" stroke="#F4A460" stroke-width="1" stroke-dasharray="3,3"/>
<line x1="140.5" y1="485" x2="140.5" y2="498" stroke="#F4A460" stroke-width="1" stroke-dasharray="3,3"/>
<line x1="144.5" y1="485" x2="144.5" y2="498" stroke="#F4A460" stroke-width="1" stroke-dasharray="3,3"/>
<line x1="148.5" y1="487" x2="148.5" y2="498" stroke="#F4A460" stroke-width="1" stroke-dasharray="3,3"/>
<line x1="152.5" y1="487" x2="152.5" y2="498" stroke="#F4A460" stroke-width="1" stroke-dasharray="3,3"/>
<line x1="156.5" y1="488" x2="156.5" y2="498" stroke="#F4A460" stroke-width="1" stroke-dasharray="3,3"/>
<line x1="160.5" y1="488" x2="160.5" y2="498" stroke="#F4A460" stroke-width="1" stroke-dasharray="3,3"/>
<line x1="164.5" y1="488" x2="164.5" y2="498" stroke="#F4A460" stroke-width="1" stroke-dasharray="3,3"/>
<line x1="168.5" y1="488" x2="168.5" y2="498" stroke="#F4A460" stroke-width="1" stroke-dasharray="3,3"/>
<line x1="172.5" y1="488" x2="172.5" y2="498" stroke="#F4A460" stroke-width="1" stroke-dasharray="3,3"/>
<line x1="176.5" y1="488" x2="176.5" y2="498" stroke="#F4A460" stroke-width="1" stroke-dasharray="3,3"/>
<line x1="180.5" y1="489" x2="180.5" y2="498" stroke="#F4A460" stroke-width="1" stroke-dasharray="3,3"/>
<line x1="184.5" y1="491" x2="184.5" y2="498" stroke="#F4A460" stroke-width="1" stroke-dasharray="3,3"/>
<line x1="188.5" y1="491" x2="188.5" y2="498" stroke="#F4A460" stroke-width="1" stroke-dasharray="3,3"/>
<line x1="192.5" y1="491" x2="192.5" y2="498" stroke="#F4A460" stroke-width="1" stroke-dasharray="3,3"/>
<line x1="196.5" y1="491" x2="196.5" y2="498" stroke="#F4A460" stroke-width="1" stroke-dasharray="3,3"/>
<line x1="200.5" y1="491" x2="200.5" y2="498" stroke="#F4A460" stroke-width="1" stroke-dasharray="3,3"/>
<line x1="204.5" y1="488" x2="204.5" y2="498" stroke="#F4A460" stroke-width="1" stroke-dasharray="3,3"/>
<line x1="208.5" y1="485" x2="208.5" y2="498" stroke="#F4A460" stroke-width="1" stroke-dasharray="3,3"/>
<line x1="212.5" y1="485" x2="212.5" y2="498" stroke="#F4A460" stroke-width="1" stroke-dasharray="3,3"/>
<line x1="216.5" y1="488" x2="216.5" y2="498" stroke="#F4A460" stroke-width="1" stroke-dasharray="3,3"/>
<line x1="220.5" y1="486" x2="220.5" y2="498" stroke="#F4A460" stroke-width="1" stroke-dasharray="3,3"/>
<line x1="224.5" y1="483" x2="224.5" y2="497" stroke="#F4A460" stroke-width="1" stroke-dasharray="3,3"/>
<line x1="228.5" y1="482" x2="228.5" y2="496" stroke="#F4A460" stroke-width="1" stroke-dasharray="3,3"/>
<line x1="232.5" y1="480" x2="232.5" y2="494" stroke="#F4A460" stroke-width="1" stroke-dasharray="3,3"/>
<line x1="236.5" y1="477" x2="236.5" y2="492" stroke="#F4A460" stroke-width="1" stroke-dasharray="3,3"/>
<line x1="240.5" y1="475" x2="240.5" y2="491" stroke="#F4A460" stroke-width="1" stroke-dasharray="3,3"/>
<line x1="244.5" y1="475" x2="244.5" y2="491" stroke="#F4A460" stroke-width="1" stroke-dasharray="3,3"/>
<line x1="248.5" y1="474" x2="248.5" y2="491" stroke="#F4A460" stroke-width="1" stroke-dasharray="3,3"/>
<line x1="252.5" y1="472" x2="252.5" y2="491" stroke="#F4A460" stroke-width="1" stroke-dasharray="3,3"/>
<line x1="256.5" y1="469" x2="256.5" y2="491" stroke="#F4A460" stroke-width="1" stroke-dasharray="3,3"/>
<line x1="260.5" y1="468" x2="260.5" y2="488" stroke="#F4A460" stroke-width="1" stroke-dasharray="3,3"/>
<line x1="264.5" y1="468" x2="264.5" y2="484" stroke="#F4A460" stroke-width="1" stroke-dasharray="3,3"/>
<line x1="268.5" y1="462" x2="268.5" y2="479" stroke="#F4A460" stroke-width="1" stroke-dasharray="3,3"/>
<line x1="272.5" y1="453" x2="272.5" y2="473" stroke="#F4A460" stroke-width="1" stroke-dasharray="3,3"/>
<line x1="276.5" y1="452" x2="276.5" y2="471" stroke="#F4A460" stroke-width="1" stroke-dasharray="3,3"/>
<line x1="280.5" y1="449" x2="280.5" y2="469" stroke="#F4A460" stroke-width="1" stroke-dasharray="3,3"/>
<line x1="284.5" y1="443" x2="284.5" y2="462" stroke="#F4A460" stroke-width="1" stroke-dasharray="3,3"/>
<line x1="288.5" y1="443" x2="288.5" y2="461" stroke="#F4A460" stroke-width="1" stroke-dasharray="3,3"/>
<line x1="292.5" y1="440" x2="292.5" y2="459" stroke="#F4A460" stroke-width="1" stroke-dasharray="3,3"/>
<line x1="296.5" y1="436" x2="296.5" y2="457" stroke="#F4A460" stroke-width="1" stroke-dasharray="3,3"/>
<line x1="300.5" y1="433" x2="300.5" y2="454" stroke="#F4A460" stroke-width="1" stroke-dasharray="3,3"/>
<line x1="304.5" y1="429" x2="304.5" y2="451" stroke="#F4A460" stroke-width="1" stroke-dasharray="3,3"/>
<line x1="308.5" y1="422" x2="308.5" y2="449" stroke="#F4A460" stroke-width="1" stroke-dasharray="3,3"/>
<line x1="312.5" y1="418" x2="312.5" y2="449" stroke="#F4A460" stroke-width="1" stroke-dasharray="3,3"/>
<line x1="316.5" y1="416" x2="316.5" y2="449" stroke="#F4A460" stroke-width="1" stroke-dasharray="3,3"/>
<line x1="320.5" y1="415" x2="320.5" y2="449" stroke="#F4A460" stroke-width="1" stroke-dasharray="3,3"/>
<line x1="324.5" y1="408" x2="324.5" y2="449" stroke="#F4A460" stroke-width="1" stroke-dasharray="3,3"/>
<line x1="328.5" y1="407" x2="328.5" y2="449" stroke="#F4A460" stroke-width="1" stroke-dasharray="3,3"/>
<line x1="332.5" y1="407" x2="332.5" y2="449" stroke="#F4A460" stroke-width="1" stroke-dasharray="3,3"/>
<line x1="336.5" y1="407" x2="336.5" y2="449" stroke="#F4A460" stroke-width="1" stroke-dasharray="3,3"/>
<line x1="340.5" y1="407" x2="340.5" y2="449" stroke="#F4A460" stroke-width="1" stroke-dasharray="3,3"/>
<line x1="344.5" y1="406" x2="344.5" y2="449" stroke="#F4A460" stroke-width="1" stroke-dasharray="3,3"/>
<line x1="348.5" y1="406" x2="348.5" y2="449" stroke="#F4A460" stroke-width="1" stroke-dasharray="3,3"/>
<line x1="352.5" y1="407" x2="352.5" y2="449" stroke="#F4A460" stroke-width="1" stroke-dasharray="3,3"/>
<line x1="356.5" y1="407" x2="356.5" y2="449" stroke="#F4A460" stroke-width="1" stroke-dasharray="3,3"/>
<line x1="360.5" y1="406" x2="360.5" y2="449" stroke="#F4A460" stroke-width="1" stroke-dasharray="3,3"/>
<line x1="364.5" y1="404" x2="364.5" y2="449" stroke="#F4A460" stroke-width="1" stroke-dasharray="3,3"/>
<line x1="368.5" y1="402" x2="368.5" y2="447" stroke="#F4A460" stroke-width="1" stroke-dasharray="3,3"/>
<line x1="372.5" y1="399" x2="372.5" y2="443" stroke="#F4A460" stroke-width="1" stroke-dasharray="3,3"/>
<line x1="376.5" y1="389" x2="376.5" y2="431" stroke="#F4A460" stroke-width="1" stroke-dasharray="3,3"/>
<line x1="380.5" y1="380" x2="380.5" y2="421" stroke="#F4A460" stroke-width="1" stroke-dasharray="3,3"/>
<line x1="384.5" y1="375" x2="384.5" y2="418" stroke="#F4A460" stroke-width="1" stroke-dasharray="3,3"/>
<line x1="388.5" y1="375" x2="388.5" y2="418" stroke="#F4A460" stroke-width="1" stroke-dasharray="3,3"/>
<line x1="392.5" y1="372" x2="392.5" y2="418" stroke="#F4A460" stroke-width="1" stroke-dasharray="3,3"/>
<line x1="396.5" y1="371" x2="396.5" y2="418" stroke="#F4A460" stroke-width="1" stroke-dasharray="3,3"/>
<line x1="400.5" y1="370" x2="400.5" y2="418" stroke="#F4A460" stroke-width="1" stroke-dasharray="3,3"/>
<line x1="404.5" y1="364" x2="404.5" y2="418" stroke="#F4A460" stroke-width="1" stroke-dasharray="3,3"/>
<line x1="408.5" y1="362" x2="408.5" y2="418" stroke="#F4A460" stroke-width="1" stroke-dasharray="3,3"/>
<line x1="412.5" y1="362" x2="412.5" y2="418" stroke="#F4A460" stroke-width="1" stroke-dasharray="3,3"/>
<line x1="416.5" y1="362" x2="416.5" y2="414" stroke="#F4A460" stroke-width="1" stroke-dasharray="3,3"/>
<line x1="420.5" y1="363" x2="420.5" y2="414" stroke="#F4A460" stroke-width="1" stroke-dasharray="3,3"/>
<line x1="424.5" y1="365" x2="424.5" y2="412" stroke="#F4A460" stroke-width="1" stroke-dasharray="3,3"/>
<line x1="428.5" y1="364" x2="428.5" y2="405" stroke="#F4A460" stroke-width="1" stroke-dasharray="3,3"/>
<line x1="432.5" y1="361" x2="432.5" y2="402" stroke="#F4A460" stroke-width="1" stroke-dasharray="3,3"/>
<line x1="436.5" y1="351" x2="436.5" y2="392" stroke="#F4A460" stroke-width="1" stroke-dasharray="3,3"/>
<line x1="440.5" y1="348" x2="440.5" y2="389" stroke="#F4A460" stroke-width="1" stroke-dasharray="3,3"/>
<line x1="444.5" y1="348" x2="444.5" y2="389" stroke="#F4A460" stroke-width="1" stroke-dasharray="3,3"/>
<line x1="448.5" y1="348" x2="448.5" y2="389" stroke="#F4A460" stroke-width="1" stroke-dasharray="3,3"/>
<line x1="452.5" y1="348" x2="452.5" y2="389" stroke="#F4A460" stroke-width="1" stroke-dasharray="3,3"/>
<line x1="456.5" y1="348" x2="456.5" y2="389" stroke="#F4A460" stroke-width="1" stroke-dasharray="3,3"/>
<line x1="460.5" y1="345" x2="460.5" y2="389" stroke="#F4A460" stroke-width="1" stroke-dasharray="3,3"/>
<line x1="464.5" y1="344" x2="464.5" y2="387" stroke="#F4A460" stroke-width="1" stroke-dasharray="3,3"/>
<line x1="468.5" y1="351" x2="468.5" y2="382" stroke="#F4A460" stroke-width="1" stroke-dasharray="3,3"/>
<line x1="472.5" y1="353" x2="472.5" y2="382" stroke="#F4A460" stroke-width="1" stroke-dasharray="3,3"/>
<line x1="476.5" y1="355" x2="476.5" y2="382" stroke="#F4A460" stroke-width="1" stroke-dasharray="3,3"/>
<line x1="480.5" y1="358" x2="480.5" y2="374" stroke="#F4A460" stroke-width="1" stroke-dasharray="3,3"/>
<line x1="484.5" y1="358" x2="484.5" y2="371" stroke="#F4A460" stroke-width="1" stroke-dasharray="3,3"/>
<line x1="488.5" y1="359" x2="488.5" y2="366" stroke="#F4A460" stroke-width="1" stroke-dasharray="3,3"/>
<line x1="492.5" y1="359" x2="492.5" y2="366" stroke="#F4A460" stroke-width="1" stroke-dasharray="3,3"/>
<line x1="496.5" y1="361" x2="496.5" y2="359" stroke="#D8BFD8" stroke-width="1" stroke-dasharray="3,3"/>
<line x1="500.5" y1="365" x2="500.5" y2="357" stroke="#D8BFD8" stroke-width="1" stroke-dasharray="3,3"/>
<line x1="504.5" y1="366" x2="504.5" y2="357" stroke="#D8BFD8" stroke-width="1" stroke-dasharray="3,3"/>
<line x1="508.5" y1="366" x2="508.5" y2="357" stroke="#D8BFD8" stroke-width="1" stroke-dasharray="3,3"/>
<line x1="512.5" y1="366" x2="512.5" y2="357" stroke="#D8BFD8" stroke-width="1" stroke-dasharray="3,3"/>
<line x1="516.5" y1="366" x2="516.5" y2="357" stroke="#D8BFD8" stroke-width="1" stroke-dasharray="3,3"/>
<line x1="520.5" y1="363" x2="520.5" y2="357" stroke="#D8BFD8" stroke-width="1" stroke-dasharray="3,3"/>
<line x1="524.5" y1="360" x2="524.5" y2="357" stroke="#D8BFD8" stroke-width="1" stroke-dasharray="3,3"/>
<line x1="528.5" y1="359" x2="528.5" y2="357" stroke="#D8BFD8" stroke-width="1" stroke-dasharray="3,3"/>
<line x1="532.5" y1="356" x2="532.5" y2="358" stroke="#F4A460" stroke-width="1" stroke-dasharray="3,3"/>
<line x1="536.5" y1="356" x2="536.5" y2="358" stroke="#F4A460" stroke-width="1" stroke-dasharray="3,3"/>
<line x1="540.5" y1="356" x2="540.5" y2="358" stroke="#F4A460" stroke-width="1" stroke-dasharray="3,3"/>
<line x1="544.5" y1="361" x2="544.5" y2="357" stroke="#D8BFD8" stroke-width="1" stroke-dasharray="3,3"/>
<line x1="548.5" y1="365" x2="548.5" y2="357" stroke="#D8BFD8" stroke-width="1" stroke-dasharray="3,3"/>
<line x1="552.5" y1="365" x2="552.5" y2="357" stroke="#D8BFD8" stroke-width="1" stroke-dasharray="3,3"/>
<line x1="556.5" y1="366" x2="556.5" y2="357" stroke="#D8BFD8" stroke-width="1" stroke-dasharray="3,3"/>
<line x1="560.5" y1="367" x2="560.5" y2="357" stroke="#D8BFD8" stroke-width="1" stroke-dasharray="3,3"/>
<line x1="564.5" y1="369" x2="564.5" y2="357" stroke="#D8BFD8" stroke-width="1" stroke-dasharray="3,3"/>
<line x1="568.5" y1="371" x2="568.5" y2="357" stroke="#D8BFD8" stroke-width="1" stroke-dasharray="3,3"/>
<line x1="572.5" y1="372" x2="572.5" y2="355" stroke="#D8BFD8" stroke-width="1" stroke-dasharray="3,3"/>
<line x1="576.5" y1="374" x2="576.5" y2="354" stroke="#D8BFD8" stroke-width="1" stroke-dasharray="3,3"/>
<line x1="580.5" y1="376" x2="580.5" y2="354" stroke="#D8BFD8" stroke-width="1" stroke-dasharray="3,3"/>
<line x1="584.5" y1="376" x2="584.5" y2="354" stroke="#D8BFD8" stroke-width="1" stroke-dasharray="3,3"/>
<line x1="588.5" y1="376" x2="588.5" y2="354" stroke="#D8BFD8" stroke-width="1" stroke-dasharray="3,3"/>
<line x1="592.5" y1="376" x2="592.5" y2="354" stroke="#D8BFD8" stroke-width="1" stroke-dasharray="3,3"/>
<line x1="596.5" y1="381" x2="596.5" y2="359" stroke="#D8BFD8" stroke-width="1" stroke-dasharray="3,3"/>
<line x1="600.5" y1="381" x2="600.5" y2="359" stroke="#D8BFD8" stroke-width="1" stroke-dasharray="3,3"/>
<line x1="604.5" y1="382" x2="604.5" y2="361" stroke="#D8BFD8" stroke-width="1" stroke-dasharray="3,3"/>
<line x1="608.5" y1="382" x2="608.5" y2="361" stroke="#D8BFD8" stroke-width="1" stroke-dasharray="3,3"/>
<line x1="612.5" y1="386" x2="612.5" y2="364" stroke="#D8BFD8" stroke-width="1" stroke-dasharray="3,3"/>
<line x1="616.5" y1="387" x2="616.5" y2="364" stroke="#D8BFD8" stroke-width="1" stroke-dasharray="3,3"/>
<line x1="620.5" y1="391" x2="620.5" y2="364" stroke="#D8BFD8" stroke-width="1" stroke-dasharray="3,3"/>
<line x1="624.5" y1="393" x2="624.5" y2="364" stroke="#D8BFD8" stroke-width="1" stroke-dasharray="3,3"/>
<line x1="628.5" y1="394" x2="628.5" y2="364" stroke="#D8BFD8" stroke-width="1" stroke-dasharray="3,3"/>
<line x1="632.5" y1="394" x2="632.5" y2="364" stroke="#D8BFD8" stroke-width="1" stroke-dasharray="3,3"/>
<line x1="636.5" y1="394" x2="636.5" y2="364" stroke="#D8BFD8" stroke-width="1" stroke-dasharray="3,3"/>
<line x1="640.5" y1="395" x2="640.5" y2="364" stroke="#D8BFD8" stroke-width="1" stroke-dasharray="3,3"/>
<line x1="644.5" y1="398" x2="644.5" y2="364" stroke="#D8BFD8" stroke-width="1" stroke-dasharray="3,3"/>
<line x1="648.5" y1="399" x2="648.5" y2="368" stroke="#D8BFD8" stroke-width="1" stroke-dasharray="3,3"/>
<line x1="652.5" y1="399" x2="652.5" y2="374" stroke="#D8BFD8" stroke-width="1" stroke-dasharray="3,3"/>
<line x1="656.5" y1="398" x2="656.5" y2="375" stroke="#D8BFD8" stroke-width="1" stroke-dasharray="3,3"/>
<line x1="660.5" y1="398" x2="660.5" y2="376" stroke="#D8BFD8" stroke-width="1" stroke-dasharray="3,3"/>
<line x1="664.5" y1="398" x2="664.5" y2="377" stroke="#D8BFD8" stroke-width="1" stroke-dasharray="3,3"/>
<line x1="668.5" y1="394" x2="668.5" y2="378" stroke="#D8BFD8" stroke-width="1" stroke-dasharray="3,3"/>
<line x1="672.5" y1="394" x2="672.5" y2="380" stroke="#D8BFD8" stroke-width="1" stroke-dasharray="3,3"/>
<line x1="676.5" y1="393" x2="676.5" y2="380" stroke="#D8BFD8" stroke-width="1" stroke-dasharray="3,3"/>
<line x1="680.5" y1="390" x2="680.5" y2="380" stroke="#D8BFD8" stroke-width="1" stroke-dasharray="3,3"/>
<line x1="684.5" y1="392" x2="684.5" y2="380" stroke="#D8BFD8" stroke-width="1" stroke-dasharray="3,3"/>
<line x1="688.5" y1="394" x2="688.5" y2="380" stroke="#D8BFD8" stroke-width="1" stroke-dasharray="3,3"/>
<line x1="692.5" y1="396" x2="692.5" y2="380" stroke="#D8BFD8" stroke-width="1" stroke-dasharray="3,3"/>
<line x1="696.5" y1="396" x2="696.5" y2="380" stroke="#D8BFD8" stroke-width="1" stroke-dasharray="3,3"/>
<line x1="700.5" y1="396" x2="700.5" y2="380" stroke="#D8BFD8" stroke-width="1" stroke-dasharray="3,3"/>
<line x1="704.5" y1="396" x2="704.5" y2="380" stroke="#D8BFD8" stroke-width="1" stroke-dasharray="3,3"/>
<line x1="708.5" y1="396" x2="708.5" y2="380" stroke="#D8BFD8" stroke-width="1" stroke-dasharray="3,3"/>
<line x1="712.5" y1="397" x2="712.5" y2="380" stroke="#D8BFD8" stroke-width="1" stroke-dasharray="3,3"/>
<line x1="716.5" y1="400" x2="716.5" y2="380" stroke="#D8BFD8" stroke-width="1" stroke-dasharray="3,3"/>
<line x1="720.5" y1="400" x2="720.5" y2="380" stroke="#D8BFD8" stroke-width="1" stroke-dasharray="3,3"/>
<line x1="724.5" y1="392" x2="724.5" y2="380" stroke="#D8BFD8" stroke-width="1" stroke-dasharray="3,3"/>
<line x1="728.5" y1="375" x2="728.5" y2="379" stroke="#F4A460" stroke-width="1" stroke-dasharray="3,3"/>
<line x1="732.5" y1="375" x2="732.5" y2="378" stroke="#F4A460" stroke-width="1" stroke-dasharray="3,3"/>
<line x1="736.5" y1="364" x2="736.5" y2="368" stroke="#F4A460" stroke-width="1" stroke-dasharray="3,3"/>
<line x1="740.5" y1="364" x2="740.5" y2="368" stroke="#F4A460" stroke-width="1" stroke-dasharray="3,3"/>
<line x1="744.5" y1="360" x2="744.5" y2="364" stroke="#F4A460" stroke-width="1" stroke-dasharray="3,3"/>
<line x1="748.5" y1="359" x2="748.5" y2="364" stroke="#F4A460" stroke-width="1" stroke-dasharray="3,3"/>
<line x1="752.5" y1="359" x2="752.5" y2="364" stroke="#F4A460" stroke-width="1" stroke-dasharray="3,3"/>
<line x1="756.5" y1="354" x2="756.5" y2="364" stroke="#F4A460" stroke-width="1" stroke-dasharray="3,3"/>
<line x1="760.5" y1="348" x2="760.5" y2="364" stroke="#F4A460" stroke-width="1" stroke-dasharray="3,3"/>
<line x1="764.5" y1="336" x2="764.5" y2="357" stroke="#F4A460" stroke-width="1" stroke-dasharray="3,3"/>
<line x1="768.5" y1="336" x2="768.5" y2="357" stroke="#F4A460" stroke-width="1" stroke-dasharray="3,3"/>
<line x1="772.5" y1="336" x2="772.5" y2="357" stroke="#F4A460" stroke-width="1" stroke-dasharray="3,3"/>
<line x1="776.5" y1="333" x2="776.5" y2="355" stroke="#F4A460" stroke-width="1" stroke-dasharray="3,3"/>
<line x1="780.5" y1="311" x2="780.5" y2="333" stroke="#F4A460" stroke-width="1" stroke-dasharray="3,3"/>
<line x1="784.5" y1="299" x2="784.5" y2="320" stroke="#F4A460" stroke-width="1" stroke-dasharray="3,3"/>
<line x1="788.5" y1="290" x2="788.5" y2="313" stroke="#F4A460" stroke-width="1" stroke-dasharray="3,3"/>
<line x1="792.5" y1="275" x2="792.5" y2="301" stroke="#F4A460" stroke-width="1" stroke-dasharray="3,3"/>
<line x1="796.5" y1="274" x2="796.5" y2="301" stroke="#F4A460" stroke-width="1" stroke-dasharray="3,3"/>
<line x1="800.5" y1="274" x2="800.5" y2="301" stroke="#F4A460" stroke-width="1" stroke-dasharray="3,3"/>
<line x1="804.5" y1="271" x2="804.5" y2="301" stroke="#F4A460" stroke-width="1" stroke-dasharray="3,3"/>
<line x1="808.5" y1="270" x2="808.5" y2="301" stroke="#F4A460" stroke-width="1" stroke-dasharray="3,3"/>
<line x1="812.5" y1="264" x2="812.5" y2="301" stroke="#F4A460" stroke-width="1" stroke-dasharray="3,3"/>
<line x1="816.5" y1="256" x2="816.5" y2="301" stroke="#F4A460" stroke-width="1" stroke-dasharray="3,3"/>
<line x1="820.5" y1="256" x2="820.5" y2="301" stroke="#F4A460" stroke-width="1" stroke-dasharray="3,3"/>
<line x1="824.5" y1="251" x2="824.5" y2="301" stroke="#F4A460" stroke-width="1" stroke-dasharray="3,3"/>
<line x1="828.5" y1="246" x2="828.5" y2="301" stroke="#F4A460" stroke-width="1" stroke-dasharray="3,3"/>
<line x1="832.5" y1="241" x2="832.5" y2="301" stroke="#F4A460" stroke-width="1" stroke-dasharray="3,3"/>
<line x1="836.5" y1="241" x2="836.5" y2="301" stroke="#F4A460" stroke-width="1" stroke-dasharray="3,3"/>
<line x1="840.5" y1="241" x2="840.5" y2="301" stroke="#F4A460" stroke-width="1" stroke-dasharray="3,3"/>
<line x1="844.5" y1="240" x2="844.5" y2="301" stroke="#F4A460" stroke-width="1" stroke-dasharray="3,3"/>
<line x1="848.5" y1="239" x2="848.5" y2="299" stroke="#F4A460" stroke-width="1" stroke-dasharray="3,3"/>
<line x1="852.5" y1="243" x2="852.5" y2="298" stroke="#F4A460" stroke-width="1" stroke-dasharray="3,3"/>
<line x1="856.5" y1="241" x2="856.5" y2="298" stroke="#F4A460" stroke-width="1" stroke-dasharray="3,3"/>
<line x1="860.5" y1="228" x2="860.5" y2="292" stroke="#F4A460" stroke-width="1" stroke-dasharray="3,3"/>
<line x1="864.5" y1="224" x2="864.5" y2="289" stroke="#F4A460" stroke-width="1" stroke-dasharray="3,3"/>
<line x1="868.5" y1="223" x2="868.5" y2="289" stroke="#F4A460" stroke-width="1" stroke-dasharray="3,3"/>
<line x1="872.5" y1="217" x2="872.5" y2="289" stroke="#F4A460" stroke-width="1" stroke-dasharray="3,3"/>
<line x1="876.5" y1="216" x2="876.5" y2="289" stroke="#F4A460" stroke-width="1" stroke-dasharray="3,3"/>
<line x1="880.5" y1="211" x2="880.5" y2="289" stroke="#F4A460" stroke-width="1" stroke-dasharray="3,3"/>
<line x1="884.5" y1="202" x2="884.5" y2="289" stroke="#F4A460" stroke-width="1" stroke-dasharray="3,3"/>
<line x1="888.5" y1="202" x2="888.5" y2="289" stroke="#F4A460" stroke-width="1" stroke-dasharray="3,3"/>
<line x1="892.5" y1="199" x2="892.5" y2="289" stroke="#F4A460" stroke-width="1" stroke-dasharray="3,3"/>
<line x1="896.5" y1="199" x2="896.5" y2="289" stroke="#F4A460" stroke-width="1" stroke-dasharray="3,3"/>
<line x1="900.5" y1="205" x2="900.5" y2="286" stroke="#F4A460" stroke-width="1" stroke-dasharray="3,3"/>
<line x1="904.5" y1="204" x2="904.5" y2="286" stroke="#F4A460" stroke-width="1" stroke-dasharray="3,3"/>
<line x1="908.5" y1="191" x2="908.5" y2="273" stroke="#F4A460" stroke-width="1" stroke-dasharray="3,3"/>
<line x1="912.5" y1="186" x2="912.5" y2="269" stroke="#F4A460" stroke-width="1" stroke-dasharray="3,3"/>
<line x1="916.5" y1="160" x2="916.5" y2="244" stroke="#F4A460" stroke-width="1" stroke-dasharray="3,3"/>
<line x1="920.5" y1="160" x2="920.5" y2="244" stroke="#F4A460" stroke-width="1" stroke-dasharray="3,3"/>
<line x1="924.5" y1="160" x2="924.5" y2="244" stroke="#F4A460" stroke-width="1" stroke-dasharray="3,3"/>
<line x1="928.5" y1="154" x2="928.5" y2="229" stroke="#F4A460" stroke-width="1" stroke-dasharray="3,3"/>
<line x1="932.5" y1="144" x2="932.5" y2="206" stroke="#F4A460" stroke-width="1" stroke-dasharray="3,3"/>
<line x1="936.5" y1="131" x2="936.5" y2="196" stroke="#F4A460" stroke-width="1" stroke-dasharray="3,3"/>
<line x1="940.5" y1="126" x2="940.5" y2="196" stroke="#F4A460" stroke-width="1" stroke-dasharray="3,3"/>
<line x1="944.5" y1="119" x2="944.5" y2="196" stroke="#F4A460" stroke-width="1" stroke-dasharray="3,3"/>
<line x1="948.5" y1="113" x2="948.5" y2="196" stroke="#F4A460" stroke-width="1" stroke-dasharray="3,3"/>
<line x1="952.5" y1="111" x2="952.5" y2="196" stroke="#F4A460" stroke-width="1" stroke-dasharray="3,3"/>
<line x1="956.5" y1="111" x2="956.5" y2="196" stroke="#F4A460" stroke-width="1" stroke-dasharray="3,3"/>
<line x1="960.5" y1="111" x2="960.5" y2="192" stroke="#F4A460" stroke-width="1" stroke-dasharray="3,3"/>
<line x1="964.5" y1="111" x2="964.5" y2="187" stroke="#F4A460" stroke-width="1" stroke-dasharray="3,3"/>
<line x1="968.5" y1="92" x2="968.5" y2="172" stroke="#F4A460" stroke-width="1" stroke-dasharray="3,3"/>
<line x1="972.5" y1="92" x2="972.5" y2="172" stroke="#F4A460" stroke-width="1" stroke-dasharray="3,3"/>
<line x1="976.5" y1="92" x2="976.5" y2="168" stroke="#F4A460" stroke-width="1" stroke-dasharray="3,3"/>
<line x1="980.5" y1="92" x2="980.5" y2="165" stroke="#F4A460" stroke-width="1" stroke-dasharray="3,3"/>
<line x1="984.5" y1="92" x2="984.5" y2="155" stroke="#F4A460" stroke-width="1" stroke-dasharray="3,3"/>
<line x1="988.5" y1="92" x2="988.5" y2="138" stroke="#F4A460" stroke-width="1" stroke-dasharray="3,3"/>
<line x1="992.5" y1="92" x2="992.5" y2="138" stroke="#F4A460" stroke-width="1" stroke-dasharray="3,3"/>
<line x1="996.5" y1="90" x2="996.5" y2="137" stroke="#F4A460" stroke-width="1" stroke-dasharray="3,3"/>
<line x1="1000.5" y1="86" x2="1000.5" y2="137" stroke="#F4A460" stroke-width="1" stroke-dasharray="3,3"/>
<line x1="1004.5" y1="76" x2="1004.5" y2="137" stroke="#F4A460" stroke-width="1" stroke-dasharray="3,3"/>
<line x1="1008.5" y1="76" x2="1008.5" y2="137" stroke="#F4A460" stroke-width="1" stroke-dasharray="3,3"/>
<line x1="1012.5" y1="74" x2="1012.5" y2="137" stroke="#F4A460" stroke-width="1" stroke-dasharray="3,3"/>
<line x1="1016.5" y1="68" x2="1016.5" y2="136" stroke="#F4A460" stroke-width="1" stroke-dasharray="3,3"/>
<line x1="1020.5" y1="66" x2="1020.5" y2="134" stroke="#F4A460" stroke-width="1" stroke-dasharray="3,3"/>
<line x1="1024.5" y1="66" x2="1024.5" y2="134" stroke="#F4A460" stroke-width="1" stroke-dasharray="3,3"/>
<line x1="1028.5" y1="66" x2="1028.5" y2="134" stroke="#F4A460" stroke-width="1" stroke-dasharray="3,3"/>
<line x1="1032.5" y1="67" x2="1032.5" y2="134" stroke="#F4A460" stroke-width="1" stroke-dasharray="3,3"/>
<line x1="1036.5" y1="75" x2="1036.5" y2="134" stroke="#F4A460" stroke-width="1" stroke-dasharray="3,3"/>
<line x1="1040.5" y1="77" x2="1040.5" y2="131" stroke="#F4A460" stroke-width="1" stroke-dasharray="3,3"/>
<line x1="1044.5" y1="77" x2="1044.5" y2="124" stroke="#F4A460" stroke-width="1" stroke-dasharray="3,3"/>
<line x1="1048.5" y1="76" x2="1048.5" y2="124" stroke="#F4A460" stroke-width="1" stroke-dasharray="3,3"/>
<line x1="1052.5" y1="73" x2="1052.5" y2="124" stroke="#F4A460" stroke-width="1" stroke-dasharray="3,3"/>
<line x1="1056.5" y1="73" x2="1056.5" y2="124" stroke="#F4A460" stroke-width="1" stroke-dasharray="3,3"/>
<line x1="1060.5" y1="73" x2="1060.5" y2="124" stroke="#F4A460" stroke-width="1" stroke-dasharray="3,3"/>
<line x1="1064.5" y1="73" x2="1064.5" y2="124" stroke="#F4A460" stroke-width="1" stroke-dasharray="3,3"/>
<line x1="1068.5" y1="86" x2="1068.5" y2="124" stroke="#F4A460" stroke-width="1" stroke-dasharray="3,3"/>
<line x1="1072.5" y1="89" x2="1072.5" y2="124" stroke="#F4A460" stroke-width="1" stroke-dasharray="3,3"/>
<line x1="1076.5" y1="89" x2="1076.5" y2="124" stroke="#F4A460" stroke-width="1" stroke-dasharray="3,3"/>
<line x1="1080.5" y1="89" x2="1080.5" y2="124" stroke="#F4A460" stroke-width="1" stroke-dasharray="3,3"/>
<line x1="1084.5" y1="89" x2="1084.5" y2="124" stroke="#F4A460" stroke-width="1" stroke-dasharray="3,3"/>
<line x1="1088.5" y1="91" x2="1088.5" y2="124" stroke="#F4A460" stroke-width="1" stroke-dasharray="3,3"/>
<line x1="1092.5" y1="95" x2="1092.5" y2="124" stroke="#F4A460" stroke-width="1" stroke-dasharray="3,3"/>
<line x1="1096.5" y1="95" x2="1096.5" y2="124" stroke="#F4A460" stroke-width="1" stroke-dasharray="3,3"/>
<line x1="1100.5" y1="96" x2="1100.5" y2="124" stroke="#F4A460" stroke-width="1" stroke-dasharray="3,3"/>
<line x1="1104.5" y1="103" x2="1104.5" y2="124" stroke="#F4A460" stroke-width="1" stroke-dasharray="3,3"/>
<line x1="1108.5" y1="97" x2="1108.5" y2="103" stroke="#F4A460" stroke-width="1" stroke-dasharray="3,3"/>
<path d="M1023 66.5h3M1029 66.5h2M1018 67.5h2M1031 67.5h1M1017 68.5h1M1033 70.5h1M1014 71.5h1M1034.5 71v2M1013.5 72v2M1055 73.5h3M1061 73.5h3M1051 74.5h1M1037 75.5h1M1049 75.5h2M1007 76.5h3M1038 76.5h2M1065.5 76v2M1004 77.5h1M1043 77.5h3M1003.5 78v2M1066 78.5h1M1067.5 82v3M1001.5 83v2M1000 85.5h1M1070 87.5h1M1071 88.5h1M997 89.5h1M1072 89.5h1M1076 89.5h3M1082 89.5h3M996 90.5h1M995 91.5h1M1088 91.5h1M971 92.5h3M977 92.5h3M983 92.5h3M989 92.5h3M1089 92.5h1M968.5 93v2M1090 93.5h1M967 95.5h1M1094 95.5h3M1100 96.5h1M1101.5 97v2M1108 97.5h1M1107 98.5h1M967 99.5h1M966.5 100v2M1103 102.5h1M1105 102.5h1M1104 103.5h1M965.5 105v3M952 111.5h1M956 111.5h3M962 111.5h3M950 112.5h2M947 115.5h1M946 116.5h1M945 117.5h1M943 121.5h1M942.5 122v2M939 127.5h1M938.5 128v2M935.5 133v3M934 139.5h1M933.5 140v2M932 145.5h1M931.5 146v2M929.5 151v2M928 153.5h1M926 157.5h1M925.5 158v2M919 160.5h3M916.5 161v3M915.5 167v3M914.5 173v3M913.5 179v3M912.5 185v2M911 187.5h1M908.5 191v2M907 193.5h1M906.5 197v3M893 199.5h3M889 201.5h1M887 202.5h2M898 202.5h1M884 203.5h1M899.5 203v2M904.5 203v2M883.5 204v2M903 204.5h1M881 209.5h1M880.5 210v2M877 215.5h1M875 216.5h2M871.5 218v2M870 220.5h1M867 223.5h1M865 224.5h2M861 227.5h1M860.5 228v2M858.5 233v3M857 239.5h1M844 240.5h3M856.5 240v2M832 241.5h3M838 241.5h3M850 241.5h1M851 242.5h1M852 243.5h1M829 245.5h1M828 246.5h1M827 247.5h1M824 251.5h1M823 252.5h1M822 253.5h1M817 256.5h3M814.5 259v2M813 261.5h1M811.5 265v2M810 267.5h1M807 270.5h1M805 271.5h2M801 273.5h1M795 274.5h1M799 274.5h2M793 275.5h2M791.5 278v3M790 284.5h1M789.5 285v2M788.5 290v2M787 292.5h1M785.5 296v2M784 298.5h1M783.5 302v2M782 304.5h1M781.5 308v2M780 310.5h1M779.5 314v3M778.5 320v3M777.5 326v3M776.5 332v2M775 334.5h1M764 336.5h2M769 336.5h3M764 337.5h1M762.5 341v3M460 345.5h2M465.5 345v2M459 346.5h1M466 347.5h1M760.5 347v2M441 348.5h3M447 348.5h3M453 348.5h3M759 349.5h1M437 350.5h1M436.5 351v2M468 351.5h2M470 352.5h1M757 353.5h1M474 354.5h2M756 354.5h1M476 355.5h1M755 355.5h1M434.5 356v2M534 356.5h3M540 356.5h1M530 357.5h1M541 357.5h1M433 358.5h1M480 358.5h3M486 358.5h1M528 358.5h2M542 358.5h1M487 359.5h2M492 359.5h3M524 359.5h1M750 359.5h3M523 360.5h1M744 360.5h3M522 361.5h1M411 362.5h3M417 362.5h2M431 362.5h1M498 362.5h1M546 362.5h1M406 363.5h2M419 363.5h1M429 363.5h2M499 363.5h1M547 363.5h1M405 364.5h1M423 364.5h1M500 364.5h1M517 364.5h2M548 364.5h1M552 364.5h3M738 364.5h3M424 365.5h2M504 365.5h3M510 365.5h3M516 365.5h1M558 365.5h1M559 366.5h2M735.5 366v3M402 367.5h1M401.5 368v2M564 368.5h2M566 369.5h1M570 370.5h1M395 371.5h3M571 371.5h2M733.5 372v2M391 373.5h1M576 373.5h2M389 374.5h2M578 374.5h1M732 374.5h1M384 375.5h2M582 375.5h3M588 375.5h3M728 375.5h2M383 376.5h1M728 376.5h1M594.5 377v2M595 379.5h1M380.5 380v2M599 380.5h3M727 380.5h1M605 381.5h3M726.5 381v2M379 382.5h1M611 384.5h1M612 385.5h2M377.5 386v2M725.5 386v3M617 387.5h1M376 388.5h1M618 388.5h1M619 389.5h1M679 390.5h1M683 390.5h1M623 391.5h1M677 391.5h2M684 391.5h2M375 392.5h1M624 392.5h2M723.5 392v2M374.5 393v2M629 393.5h3M635 393.5h3M671 393.5h3M689 393.5h1M667 394.5h1M690 394.5h2M722 394.5h1M641 395.5h2M666 395.5h1M695 395.5h3M701 395.5h3M707 395.5h3M643 396.5h1M665 396.5h1M655 397.5h1M659 397.5h3M713 397.5h2M372.5 398v2M647 398.5h3M653 398.5h2M715 398.5h1M720.5 398v2M719 399.5h1M371 400.5h1M366 403.5h2M365 404.5h1M343 406.5h1M347 406.5h3M359 406.5h3M329 407.5h3M335 407.5h3M341 407.5h2M353 407.5h3M324 408.5h2M323 409.5h1M321.5 413v2M320 415.5h1M316 416.5h1M314 417.5h2M310 420.5h1M309 421.5h1M308 422.5h1M306 426.5h1M305.5 427v2M301 432.5h1M300 433.5h1M299 434.5h1M295 437.5h1M294 438.5h1M293 439.5h1M289 442.5h1M287 443.5h2M283.5 444v2M282 446.5h1M279 450.5h1M277 451.5h2M272 453.5h2M272 454.5h1M270 458.5h1M269.5 459v2M267 464.5h1M266 465.5h1M265 466.5h1M260 468.5h3M256 469.5h1M255 470.5h1M254 471.5h1M250 473.5h1M248 474.5h2M242 475.5h3M238 476.5h1M236 477.5h2M232 480.5h1M230 481.5h2M116 482.5h3M122 483.5h3M224 483.5h3M111 485.5h2M128 485.5h3M134 485.5h3M140 485.5h3M208 485.5h1M212 485.5h1M104 486.5h3M110 486.5h1M146 486.5h2M207 486.5h1M213 486.5h2M220 486.5h1M100 487.5h1M148 487.5h1M152 487.5h3M206 487.5h1M218 487.5h2M99.5 488v2M158 488.5h3M164 488.5h3M170 488.5h3M176 488.5h3M182 490.5h2M201 490.5h2M184 491.5h1M188 491.5h3M194 491.5h3M200 491.5h1M97 493.5h1M96.5 494v2M92 499.5h1M91 500.5h1M90 501.5h1M78 503.5h3M84 503.5h3M72 504.5h3M67 508.5h2M60 509.5h3M66 509.5h1M0 513.5h3M58.5 513v3M6 514.5h3M12 517.5h3M18 518.5h2M24 518.5h3M20 519.5h1M30 519.5h1M55 519.5h2M31 520.5h1M42 520.5h3M54 520.5h1M32 521.5h1M36 521.5h3M48 521.5h3" fill="none" stroke="#F4A460" stroke-width="1"/>
<path d="M1108.5 102v2M1107.5 107v3M1106.5 113v3M1105.5 119v2M1104 121.5h1M1046 123.5h3M1052 123.5h3M1058 123.5h3M1064 123.5h3M1070 123.5h3M1076 123.5h3M1082 123.5h3M1088 123.5h3M1094 123.5h3M1100 123.5h3M1043 125.5h1M1042.5 126v2M1039 131.5h1M1037 132.5h2M1020 133.5h2M1025 133.5h3M1031 133.5h3M1019 134.5h1M1015 135.5h1M995 136.5h3M1001 136.5h3M1007 136.5h3M1013 136.5h2M989 137.5h3M987.5 140v3M986.5 146v2M985 148.5h1M984.5 152v3M982.5 158v3M980 164.5h1M979 165.5h1M978 166.5h1M974 169.5h1M973 170.5h1M968.5 171v2M972 171.5h1M967 173.5h1M966.5 177v3M965.5 183v2M964 185.5h1M962 189.5h1M961 190.5h1M960 191.5h1M936 195.5h3M942 195.5h3M948 195.5h3M954 195.5h3M934.5 199v3M932.5 205v3M931.5 211v3M930.5 217v3M929.5 223v3M928 229.5h1M927.5 230v2M926.5 235v3M925 241.5h1M924.5 242v2M918 243.5h3M916.5 245v2M915 247.5h1M915.5 251v2M914 253.5h1M914.5 257v2M913 259.5h1M913.5 263v2M912 265.5h1M911 269.5h1M910 270.5h1M909 271.5h1M907.5 275v2M906 277.5h1M905.5 281v3M900 285.5h3M864 288.5h3M870 288.5h3M876 288.5h3M882 288.5h3M888 288.5h3M894 288.5h3M860 291.5h1M859.5 292v2M854 297.5h3M848 298.5h3M794 300.5h3M800 300.5h3M806 300.5h3M812 300.5h3M818 300.5h3M824 300.5h3M830 300.5h3M836 300.5h3M842 300.5h3M791.5 302v3M789.5 308v3M787 314.5h1M786.5 315v2M784 320.5h1M783.5 321v2M782.5 326v2M781 328.5h1M780.5 332v3M779.5 338v3M778.5 344v2M777 346.5h1M777.5 350v2M776 352.5h1M575 354.5h2M580 354.5h3M586 354.5h3M592 354.5h1M574 355.5h1M593 355.5h1M774 355.5h1M570 356.5h1M594 356.5h1M766 356.5h3M772 356.5h2M502 357.5h3M508 357.5h3M514 357.5h3M520 357.5h3M526 357.5h3M532 357.5h3M538 357.5h3M544 357.5h3M550 357.5h3M556 357.5h3M562 357.5h3M568 357.5h2M498 358.5h1M763 358.5h1M496 359.5h2M597 359.5h3M762.5 359v2M603 360.5h1M604 361.5h2M609 362.5h2M493.5 363v2M611 363.5h1M745 363.5h3M751 363.5h3M757 363.5h3M615 364.5h3M621 364.5h3M627 364.5h3M633 364.5h3M639 364.5h3M488 365.5h1M492 365.5h1M645 365.5h1M487 366.5h1M646 366.5h1M741 366.5h1M486 367.5h1M647 367.5h1M739 367.5h2M736 368.5h1M735.5 369v2M483 371.5h1M650 371.5h1M481 372.5h2M651.5 372v2M733.5 374v2M655 375.5h3M478.5 376v2M661 376.5h2M732 376.5h1M663 377.5h1M477 378.5h1M667 378.5h3M728 378.5h2M727 379.5h1M673 380.5h3M679 380.5h3M685 380.5h3M691 380.5h3M697 380.5h3M703 380.5h3M709 380.5h3M715 380.5h3M721 380.5h3M468 381.5h2M473 381.5h3M467 382.5h1M464 386.5h1M462 387.5h2M440 388.5h1M444 388.5h3M450 388.5h3M456 388.5h3M439 389.5h1M438 390.5h1M435.5 393v2M434 395.5h1M433 399.5h1M432.5 400v2M428 404.5h1M427.5 405v2M425 410.5h1M424 411.5h1M423 412.5h1M417 413.5h3M413 416.5h1M387 417.5h3M393 417.5h3M399 417.5h3M405 417.5h3M411 417.5h2M383 418.5h1M381 419.5h2M379 423.5h1M378.5 424v2M376.5 429v3M374.5 435v3M372.5 441v2M371 443.5h1M366 447.5h2M311 448.5h3M317 448.5h3M323 448.5h3M329 448.5h3M335 448.5h3M341 448.5h3M347 448.5h3M353 448.5h3M359 448.5h3M365 448.5h1M306 449.5h2M305 450.5h1M301 452.5h1M300 453.5h1M299 454.5h1M294 457.5h2M293 458.5h1M287 460.5h3M283.5 462v2M282 464.5h1M280 468.5h1M278 469.5h2M274 471.5h1M272 472.5h2M269.5 476v2M268 478.5h1M265 482.5h1M264 483.5h1M263 484.5h1M259 488.5h1M257 489.5h2M239 490.5h3M245 490.5h3M251 490.5h3M234 492.5h2M233 493.5h1M227 495.5h3M223 496.5h1M113 497.5h3M119 497.5h3M125 497.5h3M131 497.5h3M137 497.5h3M143 497.5h3M149 497.5h3M155 497.5h3M161 497.5h3M167 497.5h3M173 497.5h3M179 497.5h3M185 497.5h3M191 497.5h3M197 497.5h3M203 497.5h3M209 497.5h3M215 497.5h3M221 497.5h2M101 499.5h3M107 499.5h3M98 502.5h1M97.5 503v2M94 508.5h1M93 509.5h1M92 510.5h1M0 514.5h3M90 514.5h1M6 515.5h3M89.5 515v2M12 518.5h3M78 518.5h3M84 518.5h3M18 519.5h2M24 519.5h3M72 519.5h3M20 520.5h1M30 520.5h1M55 520.5h2M31 521.5h1M54 521.5h1M32 522.5h1M36 522.5h3M42 522.5h1M48 522.5h3M43 523.5h1M60 523.5h3M66 523.5h3M44 524.5h1" fill="none" stroke="#D8BFD8" stroke-width="1"/>
<path d="M896.5 48v2M897 49.5h2M895.5 50v2M899 50.5h1M900 51.5h1M894.5 52v2M901 52.5h2M903 53.5h1M893.5 54v2M904.5 54v2M892.5 56v2M905.5 56v2M890 58.5h2M906.5 58v3M864 59.5h26M864.5 60v2M907.5 61v2M863.5 62v6M908.5 63v2M909 64.5h17M926 65.5h2M928.5 66v3M862.5 68v6M929.5 69v5M861.5 74v6M930.5 74v5M931.5 79v5M860.5 80v4M948 80.5h13M947.5 81v2M960 81.5h1M961.5 82v3M848 83.5h12M946 83.5h1M847 84.5h1M932.5 84v3M945.5 84v2M846.5 85v2M962.5 85v4M933 86.5h1M944 86.5h1M845 87.5h1M934 87.5h2M942 87.5h2M844.5 88v2M936 88.5h6M963.5 89v3M843.5 90v3M964.5 92v2M842.5 93v2M965 94.5h1M841.5 95v3M966 95.5h1M967 96.5h1M968 97.5h14M1004.5 97v2M840.5 98v3M982 98.5h2M984.5 99v2M1003.5 99v3M839.5 101v4M985.5 101v2M1002.5 102v2M986.5 103v2M1001.5 104v3M838.5 105v3M987.5 105v2M988.5 107v2M1000.5 107v2M837.5 108v4M989 108.5h11M836.5 112v2M835 114.5h1M834 115.5h1M833 116.5h1M832.5 117v3M831.5 120v6M830.5 126v5M829.5 131v6M828.5 137v4M827.5 141v2M826.5 143v3M825.5 146v2M824.5 148v2M823.5 150v2M822.5 152v2M821.5 154v2M812 156.5h9M812.5 157v2M811.5 159v6M810.5 165v6M809.5 171v6M808.5 177v4M807 181.5h1M806 182.5h1M805 183.5h1M804.5 184v2M803.5 186v4M788 188.5h5M787.5 189v2M792 189.5h1M793.5 190v3M802.5 190v4M786.5 191v2M785.5 193v2M794.5 193v4M801.5 194v4M784.5 195v2M768 196.5h16M767.5 197v2M795.5 197v3M800.5 198v2M766.5 199v2M796.5 200v2M798 200.5h2M765.5 201v2M797 201.5h1M764 203.5h1M763 204.5h1M761 205.5h2M760 206.5h1M759 207.5h1M757 208.5h2M756.5 209v2M755.5 211v4M754.5 215v4M744.5 216v2M742 217.5h2M740 218.5h2M745.5 218v2M712 219.5h11M738 219.5h2M753.5 219v4M712 220.5h1M723 220.5h15M746.5 220v2M711.5 221v4M747.5 222v2M752.5 223v2M748 224.5h4M710.5 225v4M709.5 229v4M708.5 233v4M707.5 237v3M706.5 240v2M705.5 242v3M704.5 245v2M702 247.5h2M700 248.5h2M699 249.5h1M698.5 250v2M697 252.5h1M688 253.5h9M688.5 254v2M687.5 256v4M686.5 260v4M685.5 264v4M684.5 268v4M683.5 272v3M682.5 275v2M681.5 277v3M680.5 280v3M679.5 283v3M678.5 286v4M677.5 290v3M676.5 293v4M675.5 297v6M674.5 303v5M673.5 308v6M672.5 314v3M671 317.5h1M669 318.5h2M660 319.5h9M660 320.5h1M659.5 321v4M658.5 325v4M657.5 329v4M356 332.5h5M355.5 333v2M360 333.5h1M656.5 333v4M361.5 334v4M354.5 335v2M353.5 337v2M655.5 337v3M362.5 338v3M336 339.5h17M335 340.5h1M654.5 340v4M333 341.5h2M363.5 341v4M332.5 342v2M331.5 344v2M653.5 344v3M364.5 345v2M330.5 346v3M365.5 347v2M652.5 347v3M329.5 349v2M366.5 349v2M651.5 350v2M328.5 351v2M367.5 351v2M650.5 352v2M304 353.5h11M327 353.5h1M368 353.5h1M303 354.5h1M315 354.5h2M326.5 354v2M369 354.5h2M649.5 354v2M302 355.5h1M317 355.5h1M371 355.5h1M301 356.5h1M318.5 356v2M325 356.5h1M372 356.5h1M648.5 356v2M300.5 357v2M324 357.5h1M373.5 357v2M640 357.5h8M319 358.5h1M322 358.5h2M639 358.5h1M299.5 359v3M320 359.5h2M374.5 359v2M638 359.5h1M428 360.5h9M637 360.5h1M375.5 361v2M427 361.5h1M437 361.5h1M632 361.5h5M298.5 362v3M426 362.5h1M438.5 362v2M632 362.5h1M376 363.5h6M425 363.5h1M631.5 363v3M382 364.5h2M424 364.5h1M439 364.5h1M297.5 365v3M384 365.5h7M422 365.5h2M440 365.5h7M391 366.5h2M420 366.5h2M447 366.5h10M630.5 366v2M392 367.5h1M419.5 367v2M457 367.5h1M296.5 368v2M393.5 368v2M458 368.5h1M629.5 368v3M418 369.5h1M459 369.5h1M294 370.5h2M394.5 370v2M417.5 370v2M460 370.5h3M280 371.5h14M463 371.5h3M628.5 371v2M278 372.5h2M395.5 372v2M416 372.5h1M466 372.5h2M627 372.5h1M276 373.5h2M415.5 373v2M468 373.5h1M624 373.5h3M275.5 374v2M396.5 374v2M469 374.5h1M624.5 374v2M414 375.5h1M470 375.5h1M274.5 376v2M397 376.5h2M413.5 376v2M471 376.5h1M623.5 376v4M399 377.5h1M472 377.5h1M273.5 378v2M400 378.5h13M473 378.5h2M475 379.5h1M272.5 380v2M476 380.5h13M622.5 380v4M489 381.5h1M271 382.5h1M490.5 382v2M270.5 383v2M491 384.5h1M621.5 384v4M269 385.5h1M492 385.5h7M268 386.5h1M499 386.5h6M267 387.5h1M505 387.5h1M265 388.5h2M506 388.5h1M576 388.5h2M620.5 388v4M264 389.5h1M507 389.5h1M575.5 389v2M578 389.5h2M239 390.5h7M263 390.5h1M508 390.5h3M580 390.5h5M224 391.5h15M246 391.5h2M261 391.5h2M511 391.5h2M574.5 391v2M585 391.5h1M222 392.5h2M248 392.5h13M512 392.5h1M586 392.5h1M619.5 392v3M220 393.5h2M513.5 393v2M573.5 393v2M587 393.5h1M219.5 394v2M588 394.5h15M514.5 395v2M571 395.5h2M603 395.5h4M618.5 395v4M218 396.5h1M567 396.5h4M607 396.5h2M217.5 397v2M515.5 397v2M564 397.5h3M609.5 397v2M563.5 398v2M212 399.5h5M516.5 399v2M610.5 399v2M617.5 399v3M211 400.5h1M562 400.5h1M210.5 401v2M517 401.5h2M561.5 401v2M611.5 401v2M519 402.5h1M616.5 402v2M209 403.5h1M520 403.5h2M552 403.5h9M612 403.5h4M208 404.5h1M522 404.5h2M550 404.5h2M207 405.5h1M524 405.5h26M205 406.5h2M204.5 407v2M203.5 409v3M202.5 412v2M201.5 414v3M200.5 417v2M199 419.5h1M198 420.5h1M197 421.5h1M196 422.5h1M195 423.5h1M194 424.5h1M193 425.5h1M192 426.5h1M191.5 427v2M190 429.5h1M189.5 430v2M188 432.5h1M187 433.5h1M185 434.5h2M180 435.5h5M179.5 436v2M178.5 438v2M177.5 440v2M176 442.5h1M174 443.5h2M168 444.5h6M167.5 445v2M166 447.5h1M165.5 448v2M164 450.5h1M163 451.5h1M162.5 452v2M161 454.5h1M156 455.5h5M154 456.5h2M152 457.5h2M151.5 458v2M150 460.5h1M149.5 461v2M148 463.5h1M147 464.5h1M145 465.5h2M140 466.5h5M139 467.5h1M138 468.5h1M11 469.5h10M137 469.5h1M7 470.5h4M21 470.5h1M135 470.5h2M4 471.5h3M22.5 471v2M132 471.5h3M3 472.5h1M131 472.5h1M1 473.5h2M23 473.5h1M130 473.5h1M0 474.5h1M24 474.5h3M129 474.5h1M27 475.5h14M127 475.5h2M41 476.5h1M120 476.5h7M42 477.5h1M119 477.5h1M43 478.5h1M118.5 478v2M44 479.5h5M49 480.5h2M117 480.5h1M51 481.5h1M116 481.5h1M52 482.5h1M115 482.5h1M53 483.5h1M114 483.5h1M54.5 484v2M113 484.5h1M104 485.5h9M55 486.5h1M103 486.5h1M56 487.5h1M101 487.5h2M57 488.5h2M100 488.5h1M59 489.5h1M99.5 489v2M60 490.5h3M63 491.5h14M98 491.5h1M77 492.5h1M97.5 492v2M78.5 493v2M96 494.5h1M79 495.5h1M94 495.5h2M80 496.5h14" fill="none" stroke="#FF0000" stroke-width="1"/>
<path d="M932 65.5h29M931 66.5h1M960 66.5h1M929 67.5h2M961.5 67v3M916 68.5h13M915 69.5h1M914.5 70v2M962.5 70v4M913 72.5h1M912.5 73v2M963.5 74v3M911.5 75v3M964.5 77v2M910.5 78v2M965 79.5h1M909.5 80v3M966 80.5h1M967 81.5h1M968 82.5h26M908.5 83v3M994 83.5h2M996.5 84v2M907.5 86v4M997.5 86v3M998.5 89v4M906.5 90v3M905.5 93v4M999.5 93v3M1000.5 96v2M904.5 97v2M1001 97.5h4M903 99.5h1M902 100.5h1M901 101.5h1M900.5 102v3M899.5 105v5M898.5 110v6M897.5 116v5M896.5 121v3M891 123.5h5M864 124.5h27M864 125.5h1M863.5 126v4M862.5 130v4M861.5 134v4M860.5 138v2M836 139.5h24M835.5 140v2M834.5 142v2M833.5 144v2M832 146.5h1M830 147.5h2M828 148.5h2M828 149.5h1M827.5 150v3M826.5 153v2M825.5 155v3M824.5 158v2M823.5 160v2M822 162.5h1M821.5 163v2M812 165.5h9M812.5 166v3M811.5 169v7M810.5 176v6M809.5 182v7M808.5 189v4M807 193.5h1M806.5 194v2M805 196.5h1M804.5 197v2M803.5 199v3M802.5 202v3M801.5 205v3M800.5 208v2M780 209.5h20M780 210.5h1M779.5 211v4M778.5 215v4M777.5 219v4M776.5 223v4M775.5 227v3M774.5 230v2M773.5 232v3M772.5 235v2M770 237.5h2M768 238.5h2M767 239.5h1M766.5 240v2M765 242.5h1M760 243.5h5M759 244.5h1M758 245.5h1M757 246.5h1M756.5 247v2M755.5 249v3M754.5 252v2M753.5 254v3M752.5 257v2M751 259.5h1M750 260.5h1M749 261.5h1M728 262.5h21M728 263.5h1M727.5 264v2M726.5 266v3M725.5 269v2M724.5 271v3M723.5 274v3M722.5 277v3M721.5 280v3M720.5 283v3M719.5 286v2M718.5 288v3M717.5 291v2M716.5 293v2M699 294.5h17M692 295.5h7M690 296.5h2M688 297.5h2M688 298.5h1M687.5 299v3M686.5 302v4M685.5 306v3M684.5 309v2M683.5 311v2M682.5 313v2M681.5 315v2M680.5 317v2M679.5 319v3M678.5 322v3M677.5 325v3M676.5 328v4M675.5 332v6M674.5 338v5M673.5 343v6M672.5 349v3M671 352.5h1M368 353.5h69M669 353.5h2M366 354.5h2M437 354.5h2M660 354.5h9M364 355.5h2M439 355.5h1M659.5 355v2M362 356.5h2M440 356.5h1M336 357.5h26M441.5 357v2M658.5 357v2M335 358.5h1M333 359.5h2M442.5 359v2M657.5 359v2M332.5 360v2M443.5 361v2M643 361.5h14M331.5 362v2M640 362.5h3M444 363.5h6M639 363.5h1M330.5 364v3M450 364.5h2M638.5 364v2M452 365.5h6M458 366.5h2M637 366.5h1M329.5 367v2M460 367.5h1M632 367.5h5M461 368.5h2M632 368.5h1M328.5 369v2M463 369.5h1M631.5 369v2M327 370.5h1M464 370.5h25M307 371.5h20M489 371.5h1M630.5 371v3M291 372.5h16M490.5 372v2M288 373.5h3M287.5 374v2M491 374.5h1M629.5 374v2M492 375.5h7M286 376.5h1M499 376.5h6M628.5 376v2M285.5 377v2M505 377.5h1M627 377.5h1M506 378.5h1M624 378.5h3M280 379.5h5M507 379.5h1M624 379.5h1M279.5 380v2M508 380.5h23M623.5 380v4M531 381.5h2M278.5 382v2M533 382.5h2M535 383.5h1M277.5 384v2M536 384.5h1M622.5 384v4M537 385.5h1M276.5 386v2M538 386.5h1M539 387.5h1M275.5 388v3M540 388.5h2M621.5 388v4M542 389.5h2M544 390.5h35M274.5 391v2M579 391.5h2M581 392.5h1M620.5 392v2M273.5 393v3M582.5 393v2M619 394.5h1M583 395.5h1M617 395.5h2M272.5 396v3M584 396.5h33M271.5 399v4M270.5 403v3M269.5 406v4M268.5 410v2M267 412.5h1M265 413.5h2M264 414.5h1M262 415.5h2M260 416.5h2M259 417.5h1M258 418.5h1M257 419.5h1M256 420.5h1M254 421.5h2M224 422.5h30M222 423.5h2M220 424.5h2M219.5 425v2M218 427.5h1M217.5 428v2M216 430.5h1M215 431.5h1M213 432.5h2M208 433.5h5M207 434.5h1M206 435.5h1M205 436.5h1M204 437.5h1M203 438.5h1M201 439.5h2M200 440.5h1M199 441.5h1M198 442.5h1M197 443.5h1M196 444.5h1M195 445.5h1M193 446.5h2M192 447.5h1M190 448.5h2M187 449.5h3M180 450.5h7M179.5 451v2M178.5 453v2M177.5 455v2M176 457.5h1M174 458.5h2M172 459.5h2M171 460.5h1M169 461.5h2M168.5 462v2M167.5 464v3M166.5 467v3M165.5 470v3M164.5 473v2M163.5 475v2M162.5 477v2M161.5 479v2M132 481.5h29M131 482.5h1M130.5 483v2M129 485.5h1M60 486.5h49M127 486.5h2M59 487.5h1M109 487.5h1M120 487.5h7M57 488.5h2M110 488.5h1M119 488.5h1M56 489.5h1M111 489.5h1M117 489.5h2M55 490.5h1M112 490.5h5M54.5 491v2M53 493.5h1M51 494.5h2M16 495.5h35M14 496.5h2M8 497.5h6M6 498.5h2M0 499.5h6" fill="none" stroke="#0000FF" stroke-width="1"/>
<path d="M788.5 20v6M787.5 21v2M786 23.5h1M785.5 24v2M784.5 26v4M789.5 26v12M783.5 30v6M764.5 33v3M765 34.5h1M766 35.5h1M763.5 36v5M767 36.5h1M782.5 36v7M768.5 37v3M790.5 38v12M769.5 40v4M762.5 41v6M781.5 43v6M770.5 44v5M761.5 47v5M771.5 49v4M780.5 49v5M791.5 50v12M844.5 51v5M760.5 52v3M772.5 53v4M843.5 53v3M779.5 54v3M758 55.5h2M756.5 56v5M757 56.5h1M842.5 56v3M845.5 56v9M773.5 57v2M778.5 57v2M774.5 59v2M777.5 59v3M841.5 59v3M732.5 61v2M755.5 61v10M775.5 61v2M731.5 62v2M776.5 62v2M792.5 62v8M840.5 62v2M733.5 63v3M730.5 64v2M839.5 64v2M846.5 65v10M729.5 66v2M734.5 66v3M838.5 66v2M728.5 68v4M837.5 68v2M735.5 69v3M793.5 70v4M836.5 70v3M754.5 71v10M727.5 72v6M736.5 72v5M835.5 73v6M794.5 74v4M847.5 75v9M720.5 77v3M737.5 77v6M726.5 78v5M795.5 78v4M721.5 79v4M834.5 79v6M719.5 80v5M753.5 81v10M796.5 82v4M722.5 83v3M725.5 83v6M738.5 83v7M744.5 83v2M745.5 84v2M848.5 84v5M718.5 85v6M743.5 85v4M833.5 85v6M884 85.5h5M723.5 86v4M746.5 86v2M797.5 86v2M884.5 86v2M888 86.5h1M851 87.5h2M872 87.5h3M889.5 87v3M747.5 88v2M798.5 88v3M849 88.5h2M852 88.5h1M872 88.5h1M875 88.5h2M883.5 88v4M724.5 89v3M742.5 89v4M853.5 89v2M871.5 89v2M876 89.5h1M739.5 90v6M748 90.5h1M877.5 90v4M890.5 90v4M717.5 91v5M749.5 91v2M752.5 91v6M799.5 91v2M832.5 91v4M854.5 91v2M870.5 91v2M708 92.5h5M824.5 92v2M882.5 92v5M708.5 93v4M713.5 93v2M741.5 93v4M750 93.5h1M800.5 93v4M823 93.5h1M855.5 93v2M869.5 93v2M751.5 94v2M812.5 94v2M822 94.5h1M825.5 94v2M878.5 94v4M891.5 94v3M714 95.5h1M811 95.5h1M821 95.5h1M831.5 95v2M856.5 95v6M868.5 95v5M715 96.5h2M740.5 96v4M810.5 96v2M813.5 96v4M820.5 96v2M826.5 96v2M707.5 97v9M715 97.5h2M801.5 97v5M830.5 97v2M881.5 97v4M892.5 97v3M716 98.5h1M809 98.5h1M819.5 98v3M827.5 98v2M879.5 98v4M808.5 99v2M829.5 99v2M814.5 100v4M828.5 100v2M867.5 100v7M893.5 100v2M807.5 101v4M818.5 101v4M857.5 101v9M880.5 101v3M802.5 102v5M894.5 102v2M815.5 104v4M895.5 104v2M806.5 105v4M817.5 105v3M706.5 106v10M896.5 106v2M803.5 107v5M866.5 107v7M816.5 108v2M897 108.5h1M805.5 109v4M898.5 109v2M858.5 110v8M899 111.5h1M804.5 112v3M900 112.5h1M865.5 114v7M705.5 116v9M859.5 118v9M864.5 121v4M704.5 125v6M863.5 125v2M860.5 127v5M862.5 127v2M861.5 129v2M703.5 131v4M702.5 135v4M701.5 139v4M700.5 143v5M699.5 148v8M698.5 156v8M697.5 164v8M652.5 169v4M692.5 170v6M693.5 171v2M696.5 172v5M651.5 173v7M653.5 173v7M694 173.5h1M695.5 174v2M691.5 176v11M650.5 180v7M654.5 180v8M649.5 187v7M690.5 187v11M655.5 188v7M684.5 191v3M683 192.5h1M682.5 193v2M648.5 194v7M685.5 194v6M656.5 195v4M681 195.5h1M680.5 196v2M657 198.5h2M668.5 198v3M679.5 198v3M689.5 198v11M659 199.5h2M660 200.5h1M667.5 200v2M686.5 200v6M584.5 201v3M647.5 201v7M661.5 201v2M669.5 201v4M678.5 201v4M583.5 202v2M666.5 202v3M662.5 203v2M582 204.5h1M585.5 204v5M581.5 205v2M663.5 205v2M665.5 205v2M670.5 205v4M677.5 205v3M687.5 206v6M580.5 207v4M607 207.5h2M628.5 207v4M664.5 207v2M604.5 208v6M605 208.5h2M609 208.5h1M646.5 208v6M676.5 208v2M586.5 209v4M610 209.5h1M671.5 209v4M688.5 209v6M611 210.5h1M629.5 210v5M675 210.5h1M579.5 211v7M612.5 211v3M627.5 211v8M636.5 211v3M637 211.5h1M674.5 211v2M638 212.5h2M587.5 213v5M640.5 213v2M672 213.5h2M603.5 214v12M613.5 214v6M635.5 214v4M645.5 214v7M672 214.5h1M630.5 215v6M641.5 215v3M578.5 218v6M588.5 218v3M634.5 218v4M642.5 218v2M591 219.5h6M626.5 219v7M589 220.5h2M596.5 220v4M614.5 220v6M643.5 220v3M631.5 221v5M644.5 221v4M633.5 222v4M577.5 224v7M597.5 224v9M602.5 226v12M615.5 226v6M625.5 226v8M632.5 226v3M576.5 231v6M616.5 232v3M598.5 233v9M624.5 234v4M617.5 235v2M575.5 237v4M618 237.5h1M601.5 238v12M619.5 238v2M623 238.5h1M621 239.5h2M620 240.5h1M574.5 241v4M599.5 242v9M573.5 245v4M572.5 249v7M600.5 250v6M571.5 256v10M570.5 266v9M569.5 275v10M568.5 285v7M567.5 292v5M566.5 297v4M565.5 301v5M564.5 306v4M563.5 310v2M562.5 312v3M552 315.5h5M561.5 315v2M228.5 316v3M552 316.5h1M557 316.5h2M229 317.5h1M536.5 317v3M551.5 317v3M559 317.5h2M230 318.5h1M535.5 318v2M560 318.5h1M227.5 319v5M231 319.5h1M232.5 320v3M534.5 320v2M537.5 320v4M550.5 320v3M533.5 322v2M233.5 323v5M549.5 323v3M226.5 324v4M532 324.5h1M538.5 324v4M531.5 325v2M548.5 326v3M530.5 327v2M225.5 328v5M234.5 328v6M539.5 328v4M529.5 329v2M547.5 329v2M528 331.5h1M546.5 331v2M527.5 332v2M540.5 332v3M224.5 333v3M248.5 333v2M545.5 333v2M235.5 334v5M246 334.5h2M526.5 334v2M541 334.5h1M240 335.5h6M249.5 335v3M542 335.5h3M223.5 336v2M239.5 336v2M525.5 336v2M544 336.5h1M222.5 338v2M238 338.5h1M250.5 338v2M523 338.5h2M236.5 339v3M237.5 339v2M520.5 339v4M521 339.5h2M221.5 340v2M251.5 340v3M220.5 342v3M176 343.5h1M252.5 343v3M324.5 343v2M519.5 343v7M174 344.5h2M177.5 344v2M172 345.5h2M219.5 345v4M323.5 345v3M325.5 345v2M172 346.5h1M178 346.5h1M253.5 346v2M171.5 347v3M179.5 347v2M326.5 347v2M254.5 348v3M322.5 348v3M180.5 349v2M218.5 349v3M327.5 349v2M170.5 350v3M518.5 350v6M181.5 351v2M255.5 351v2M321.5 351v3M328.5 351v2M188.5 352v2M200.5 352v2M217.5 352v4M169.5 353v3M182.5 353v2M187 353.5h1M199.5 353v2M256.5 353v5M329.5 353v2M186.5 354v2M189.5 354v3M201.5 354v2M320.5 354v2M183.5 355v2M198 355.5h1M312 355.5h1M330.5 355v2M168.5 356v3M185 356.5h1M197.5 356v2M202.5 356v3M216.5 356v2M311.5 356v2M313 356.5h1M319 356.5h1M517.5 356v7M184 357.5h1M190.5 357v3M314 357.5h1M318 357.5h1M331.5 357v2M196 358.5h1M215.5 358v2M257.5 358v7M310.5 358v2M315 358.5h1M317 358.5h1M167.5 359v3M195.5 359v2M203.5 359v2M208 359.5h1M316 359.5h1M332.5 359v4M191.5 360v3M207 360.5h1M209.5 360v2M214.5 360v2M309.5 360v2M194 361.5h1M204 361.5h3M292.5 361v3M166.5 362v2M193.5 362v2M204 362.5h1M210 362.5h1M213.5 362v2M308.5 362v2M372.5 362v3M192.5 363v2M211.5 363v2M291.5 363v3M333.5 363v7M371.5 363v2M516.5 363v7M165.5 364v3M212.5 364v2M293.5 364v4M307 364.5h1M258.5 365v7M306 365.5h1M370 365.5h1M373.5 365v6M290.5 366v2M305 366.5h1M369.5 366v2M164.5 367v2M304 367.5h1M289.5 368v3M294.5 368v5M302 368.5h2M368.5 368v2M163.5 369v2M300 369.5h2M300 370.5h1M334.5 370v7M367.5 370v2M515.5 370v6M162.5 371v2M288.5 371v3M299.5 371v2M374.5 371v5M259.5 372v7M366.5 372v3M161.5 373v2M295.5 373v4M298.5 373v3M287.5 374v3M460.5 374v3M160.5 375v4M280.5 375v3M365.5 375v2M461 375.5h2M297.5 376v2M375.5 376v6M463 376.5h1M514.5 376v6M281.5 377v2M286.5 377v2M296.5 377v3M335.5 377v7M364.5 377v2M459.5 377v5M464 377.5h3M279.5 378v5M467 378.5h2M159.5 379v6M260.5 379v5M282.5 379v2M285.5 379v3M363.5 379v2M468 379.5h1M469.5 380v3M283.5 381v2M362.5 381v2M132 382.5h1M284.5 382v2M376.5 382v3M458.5 382v5M513.5 382v6M96.5 383v3M112.5 383v2M131.5 383v2M133 383.5h2M278.5 383v4M361.5 383v2M470.5 383v4M135 384.5h1M261.5 384v2M336.5 384v4M348 384.5h1M97.5 385v3M111.5 385v3M113.5 385v2M124 385.5h1M130.5 385v2M136.5 385v2M158.5 385v6M340 385.5h1M347.5 385v2M349 385.5h1M356 385.5h3M360.5 385v2M377 385.5h2M95.5 386v4M123.5 386v2M125 386.5h1M262.5 386v2M338 386.5h2M341.5 386v2M350 386.5h1M355 386.5h1M359 386.5h1M379 386.5h1M114.5 387v3M126 387.5h1M129.5 387v2M137.5 387v4M277.5 387v5M337 387.5h1M346.5 387v2M351 387.5h1M353 387.5h2M380 387.5h1M457.5 387v5M471.5 387v3M98.5 388v4M110.5 388v2M122 388.5h1M127 388.5h1M263.5 388v2M342 388.5h1M352 388.5h1M381 388.5h1M512.5 388v5M104 389.5h1M121.5 389v2M128 389.5h1M343.5 389v2M345.5 389v2M382 389.5h1M94.5 390v4M103.5 390v2M105 390.5h1M109.5 390v3M115.5 390v2M264.5 390v2M383 390.5h1M472.5 390v3M106.5 391v2M120 391.5h1M138.5 391v3M157.5 391v6M265 391.5h6M344 391.5h1M384.5 391v2M99.5 392v3M102.5 392v2M116.5 392v2M118 392.5h2M271 392.5h3M276.5 392v3M456.5 392v3M107 393.5h2M117 393.5h1M274 393.5h2M385.5 393v4M416.5 393v2M473.5 393v4M511.5 393v2M93.5 394v4M101.5 394v2M108 394.5h1M139.5 394v4M148 394.5h1M100.5 395v2M147.5 395v2M149 395.5h1M415.5 395v3M417.5 395v2M444 395.5h1M455 395.5h1M495 395.5h6M510.5 395v3M150 396.5h1M443 396.5h1M445.5 396v2M454 396.5h1M492 396.5h3M500 396.5h1M146.5 397v2M151 397.5h1M156.5 397v4M386.5 397v4M418.5 397v2M424 397.5h1M442.5 397v2M453 397.5h1M474.5 397v3M492 397.5h1M501.5 397v2M92.5 398v3M140.5 398v2M152 398.5h2M414.5 398v3M423 398.5h1M425.5 398v2M446 398.5h1M452 398.5h1M491.5 398v4M509.5 398v2M141 399.5h1M145.5 399v2M154 399.5h2M419.5 399v2M422.5 399v2M441 399.5h1M447.5 399v2M451 399.5h1M502.5 399v2M88 400.5h4M142 400.5h2M426.5 400v2M440 400.5h1M449 400.5h2M475.5 400v4M508.5 400v2M87 401.5h1M144 401.5h1M387.5 401v4M413.5 401v3M420 401.5h2M439 401.5h1M448 401.5h1M503.5 401v2M86 402.5h1M420 402.5h1M427.5 402v2M438 402.5h1M490.5 402v4M506 402.5h2M85 403.5h1M437 403.5h1M504 403.5h2M84 404.5h1M412.5 404v2M428.5 404v2M436.5 404v2M476.5 404v2M83 405.5h1M388.5 405v2M477 405.5h4M82 406.5h1M411 406.5h1M429.5 406v3M435.5 406v3M481 406.5h1M489.5 406v4M81 407.5h1M389 407.5h1M409 407.5h2M482 407.5h1M80.5 408v2M390 408.5h1M396 408.5h3M408 408.5h1M483 408.5h1M391 409.5h1M394 409.5h2M399 409.5h2M407 409.5h1M430.5 409v2M434.5 409v2M484 409.5h2M79.5 410v3M392 410.5h2M401 410.5h1M406.5 410v2M486 410.5h3M402 411.5h1M431.5 411v3M433.5 411v3M488 411.5h1M403 412.5h1M405 412.5h1M78.5 413v4M404 413.5h1M432.5 414v2M72.5 417v3M77.5 417v3M73 418.5h1M74 419.5h1M71.5 420v5M75 420.5h2M76 421.5h1M70.5 425v4M64.5 426v4M65.5 428v2M69.5 429v5M63.5 430v6M66.5 430v3M67.5 433v2M68.5 434v3M62.5 436v7M61.5 443v6M28.5 444v3M56 445.5h1M29.5 446v2M55.5 446v2M57.5 446v2M27.5 447v4M30.5 448v3M54 448.5h1M58.5 448v2M53.5 449v2M60.5 449v4M40 450.5h1M59.5 450v2M26.5 451v5M31.5 451v2M39 451.5h1M41 451.5h1M52 451.5h1M38 452.5h1M42.5 452v2M51.5 452v2M32.5 453v2M37 453.5h1M33 454.5h4M43 454.5h1M50.5 454v2M44 455.5h1M25.5 456v4M45 456.5h2M49.5 456v2M47 457.5h1M48 458.5h1M24.5 460v3M16 461.5h2M15.5 462v2M18 462.5h2M23 462.5h1M20 463.5h3M14.5 464v2M13.5 466v2M12.5 468v3M11.5 471v4M10.5 475v4M9.5 479v4M4 480.5h1M3 481.5h1M5 481.5h1M1 482.5h2M6.5 482v2M0 483.5h1M8.5 483v3M7 484.5h1" fill="none" stroke="#00FF00" stroke-width="1"/>
<line x1="883.5" y1="11.5" x2="1061" y2="100.8" stroke="#00FF7F" stroke-width="3.2" shape-rendering="crispEdges"/>
<line x1="819.5" y1="75.9" x2="998" y2="165.5" stroke="#00FF7F" stroke-width="3.6" shape-rendering="crispEdges"/>
</g>
<rect x="0" y="1" width="1255" height="1" fill="#000"/>
<rect x="0" y="1" width="1" height="525" fill="#000"/>
<rect x="1254" y="1" width="1" height="525" fill="#000"/>
<rect x="0" y="525" width="1255" height="1" fill="#000"/>
<polygon points="999.5,2 1009.5,2 1004.5,7" fill="#c0c0c0" shape-rendering="geometricPrecision"/>
<polygon points="1,520.5 1,525 5.5,525" fill="#c0c0c0" shape-rendering="geometricPrecision"/>
<rect x="1255" y="13" width="4" height="1" fill="#000"/>
<text filter="url(#tf)" x="1260.4" y="17" font-size="10" textLength="32.3" lengthAdjust="spacingAndGlyphs" fill="#000" shape-rendering="geometricPrecision">1556.98</text>
<rect x="1255" y="45" width="4" height="1" fill="#000"/>
<text filter="url(#tf)" x="1260.4" y="49" font-size="10" textLength="32.3" lengthAdjust="spacingAndGlyphs" fill="#000" shape-rendering="geometricPrecision">1534.16</text>
<rect x="1255" y="77" width="4" height="1" fill="#000"/>
<text filter="url(#tf)" x="1260.4" y="81" font-size="10" textLength="32.3" lengthAdjust="spacingAndGlyphs" fill="#000" shape-rendering="geometricPrecision">1511.34</text>
<rect x="1255" y="109" width="4" height="1" fill="#000"/>
<text filter="url(#tf)" x="1260.4" y="113" font-size="10" textLength="32.3" lengthAdjust="spacingAndGlyphs" fill="#000" shape-rendering="geometricPrecision">1488.52</text>
<rect x="1255" y="141" width="4" height="1" fill="#000"/>
<text filter="url(#tf)" x="1260.4" y="145" font-size="10" textLength="32.3" lengthAdjust="spacingAndGlyphs" fill="#000" shape-rendering="geometricPrecision">1465.70</text>
<rect x="1255" y="173" width="4" height="1" fill="#000"/>
<text filter="url(#tf)" x="1260.4" y="177" font-size="10" textLength="32.3" lengthAdjust="spacingAndGlyphs" fill="#000" shape-rendering="geometricPrecision">1442.88</text>
<rect x="1255" y="205" width="4" height="1" fill="#000"/>
<text filter="url(#tf)" x="1260.4" y="209" font-size="10" textLength="32.3" lengthAdjust="spacingAndGlyphs" fill="#000" shape-rendering="geometricPrecision">1420.06</text>
<rect x="1255" y="237" width="4" height="1" fill="#000"/>
<text filter="url(#tf)" x="1260.4" y="241" font-size="10" textLength="32.3" lengthAdjust="spacingAndGlyphs" fill="#000" shape-rendering="geometricPrecision">1397.24</text>
<rect x="1255" y="269" width="4" height="1" fill="#000"/>
<text filter="url(#tf)" x="1260.4" y="273" font-size="10" textLength="32.3" lengthAdjust="spacingAndGlyphs" fill="#000" shape-rendering="geometricPrecision">1374.42</text>
<rect x="1255" y="301" width="4" height="1" fill="#000"/>
<text filter="url(#tf)" x="1260.4" y="305" font-size="10" textLength="32.3" lengthAdjust="spacingAndGlyphs" fill="#000" shape-rendering="geometricPrecision">1351.60</text>
<rect x="1255" y="333" width="4" height="1" fill="#000"/>
<text filter="url(#tf)" x="1260.4" y="337" font-size="10" textLength="32.3" lengthAdjust="spacingAndGlyphs" fill="#000" shape-rendering="geometricPrecision">1328.78</text>
<rect x="1255" y="365" width="4" height="1" fill="#000"/>
<text filter="url(#tf)" x="1260.4" y="369" font-size="10" textLength="32.3" lengthAdjust="spacingAndGlyphs" fill="#000" shape-rendering="geometricPrecision">1305.96</text>
<rect x="1255" y="397" width="4" height="1" fill="#000"/>
<text filter="url(#tf)" x="1260.4" y="401" font-size="10" textLength="32.3" lengthAdjust="spacingAndGlyphs" fill="#000" shape-rendering="geometricPrecision">1283.14</text>
<rect x="1255" y="429" width="4" height="1" fill="#000"/>
<text filter="url(#tf)" x="1260.4" y="433" font-size="10" textLength="32.3" lengthAdjust="spacingAndGlyphs" fill="#000" shape-rendering="geometricPrecision">1260.32</text>
<rect x="1255" y="461" width="4" height="1" fill="#000"/>
<text filter="url(#tf)" x="1260.4" y="465" font-size="10" textLength="32.3" lengthAdjust="spacingAndGlyphs" fill="#000" shape-rendering="geometricPrecision">1237.50</text>
<rect x="1255" y="493" width="4" height="1" fill="#000"/>
<text filter="url(#tf)" x="1260.4" y="497" font-size="10" textLength="32.3" lengthAdjust="spacingAndGlyphs" fill="#000" shape-rendering="geometricPrecision">1214.68</text>
<rect x="1257" y="107" width="39" height="11" fill="#c0c0c0"/>
<text filter="url(#tf)" x="1260.4" y="116" font-size="10" textLength="32.3" lengthAdjust="spacingAndGlyphs" fill="#fff">1486.05</text>
<rect x="0" y="526" width="1" height="3" fill="#000"/>
<text filter="url(#tf)" x="0.3" y="538" font-size="10" textLength="49.7" lengthAdjust="spacingAndGlyphs" fill="#000">24 Oct 2018</text>
<rect x="64" y="526" width="1" height="3" fill="#000"/>
<text filter="url(#tf)" x="64.8" y="538" font-size="10" textLength="51.7" lengthAdjust="spacingAndGlyphs" fill="#000">14 Nov 2018</text>
<rect x="128" y="526" width="1" height="3" fill="#000"/>
<text filter="url(#tf)" x="128.8" y="538" font-size="10" textLength="45.7" lengthAdjust="spacingAndGlyphs" fill="#000">6 Dec 2018</text>
<rect x="192" y="526" width="1" height="3" fill="#000"/>
<text filter="url(#tf)" x="192.8" y="538" font-size="10" textLength="50.7" lengthAdjust="spacingAndGlyphs" fill="#000">31 Dec 2018</text>
<rect x="256" y="526" width="1" height="3" fill="#000"/>
<text filter="url(#tf)" x="256.8" y="538" font-size="10" textLength="49.7" lengthAdjust="spacingAndGlyphs" fill="#000">23 Jan 2019</text>
<rect x="320" y="526" width="1" height="3" fill="#000"/>
<text filter="url(#tf)" x="320.8" y="538" font-size="10" textLength="50.7" lengthAdjust="spacingAndGlyphs" fill="#000">14 Feb 2019</text>
<rect x="384" y="526" width="1" height="3" fill="#000"/>
<text filter="url(#tf)" x="384.8" y="538" font-size="10" textLength="45.7" lengthAdjust="spacingAndGlyphs" fill="#000">8 Mar 2019</text>
<rect x="448" y="526" width="1" height="3" fill="#000"/>
<text filter="url(#tf)" x="448.8" y="538" font-size="10" textLength="44.7" lengthAdjust="spacingAndGlyphs" fill="#000">1 Apr 2019</text>
<rect x="512" y="526" width="1" height="3" fill="#000"/>
<text filter="url(#tf)" x="512.8" y="538" font-size="10" textLength="49.7" lengthAdjust="spacingAndGlyphs" fill="#000">24 Apr 2019</text>
<rect x="576" y="526" width="1" height="3" fill="#000"/>
<text filter="url(#tf)" x="576.8" y="538" font-size="10" textLength="52.7" lengthAdjust="spacingAndGlyphs" fill="#000">16 May 2019</text>
<rect x="640" y="526" width="1" height="3" fill="#000"/>
<text filter="url(#tf)" x="640.8" y="538" font-size="10" textLength="44.7" lengthAdjust="spacingAndGlyphs" fill="#000">7 Jun 2019</text>
<rect x="704" y="526" width="1" height="3" fill="#000"/>
<text filter="url(#tf)" x="704.8" y="538" font-size="10" textLength="41.7" lengthAdjust="spacingAndGlyphs" fill="#000">1 Jul 2019</text>
<rect x="768" y="526" width="1" height="3" fill="#000"/>
<text filter="url(#tf)" x="768.8" y="538" font-size="10" textLength="46.7" lengthAdjust="spacingAndGlyphs" fill="#000">23 Jul 2019</text>
<rect x="832" y="526" width="1" height="3" fill="#000"/>
<text filter="url(#tf)" x="832.8" y="538" font-size="10" textLength="51.7" lengthAdjust="spacingAndGlyphs" fill="#000">14 Aug 2019</text>
<rect x="896" y="526" width="1" height="3" fill="#000"/>
<text filter="url(#tf)" x="896.8" y="538" font-size="10" textLength="45.7" lengthAdjust="spacingAndGlyphs" fill="#000">5 Sep 2019</text>
<rect x="960" y="526" width="1" height="3" fill="#000"/>
<text filter="url(#tf)" x="960.8" y="538" font-size="10" textLength="50.7" lengthAdjust="spacingAndGlyphs" fill="#000">27 Sep 2019</text>
<text filter="url(#tf)" x="41.6" y="15" font-size="10" textLength="63.4" lengthAdjust="spacingAndGlyphs" fill="#000">XAUUSD,Daily</text>
<g shape-rendering="geometricPrecision">
<defs>
<linearGradient id="gb" x1="0" y1="0" x2="0" y2="1"><stop offset="0" stop-color="#8c8cff"/><stop offset="0.5" stop-color="#4a4af5"/><stop offset="1" stop-color="#2a2ae8"/></linearGradient>
<linearGradient id="gr" x1="0" y1="0" x2="0" y2="1"><stop offset="0" stop-color="#ee8a80"/><stop offset="0.5" stop-color="#d04a42"/><stop offset="1" stop-color="#c03028"/></linearGradient>
</defs>
<rect x="4.5" y="5.5" width="14" height="12" rx="1.6" ry="1.6" fill="#fff" stroke="#4a4a4a" stroke-width="1"/>
<path d="M4.5 7.6 V6.6 Q4.5 5.4 5.9 5.4 H17.1 Q18.5 5.4 18.5 6.6 V7.6" fill="#fff" stroke="#5a5aff" stroke-width="1.1"/>
<rect x="4.6" y="7.2" width="13.8" height="0.7" fill="#7a7ab0"/>
<g fill="#e25a5a"><rect x="6.1" y="9" width="4.8" height="1.1"/><rect x="6.1" y="11" width="4.8" height="1.1"/><rect x="6.1" y="13" width="4.8" height="1.1"/><rect x="6.1" y="15" width="4.8" height="1.1"/></g>
<g fill="#f0a8a8"><rect x="6.1" y="10.1" width="4.8" height="0.9"/><rect x="6.1" y="12.1" width="4.8" height="0.9"/><rect x="6.1" y="14.1" width="4.8" height="0.9"/></g>
<g fill="#6868f4"><rect x="12.1" y="9" width="4.8" height="1.1"/><rect x="12.1" y="11" width="4.8" height="1.1"/><rect x="12.1" y="13" width="4.8" height="1.1"/><rect x="12.1" y="15" width="4.8" height="1.1"/></g>
<g fill="#b4b4fa"><rect x="12.1" y="10.1" width="4.8" height="0.9"/><rect x="12.1" y="12.1" width="4.8" height="0.9"/><rect x="12.1" y="14.1" width="4.8" height="0.9"/></g>
<path d="M21.6 7.2 Q21.6 6.5 22.4 6.5 H23.4 Q24.2 6.5 24.2 7.2 V10.3 H26.6 Q27.4 10.3 27.4 11.1 V15.7 Q27.4 16.5 26.6 16.5 H22.4 Q21.6 16.5 21.6 15.7 Z" fill="url(#gb)" stroke="#1c1cf0" stroke-width="1"/>
<rect x="22.3" y="15" width="4.4" height="0.8" fill="#9a9aff"/>
<path d="M35.4 7.2 Q35.4 6.5 34.6 6.5 H33.6 Q32.8 6.5 32.8 7.2 V10.3 H30.4 Q29.6 10.3 29.6 11.1 V15.7 Q29.6 16.5 30.4 16.5 H34.6 Q35.4 16.5 35.4 15.7 Z" fill="url(#gr)" stroke="#b82018" stroke-width="1"/>
<rect x="30.3" y="15" width="4.4" height="0.8" fill="#e89890"/>
<rect x="26" y="6.1" width="4.8" height="0.9" fill="#6a6a6a"/><rect x="26" y="8.1" width="4.8" height="0.9" fill="#6a6a6a"/>
</g>

</svg></body></html>
